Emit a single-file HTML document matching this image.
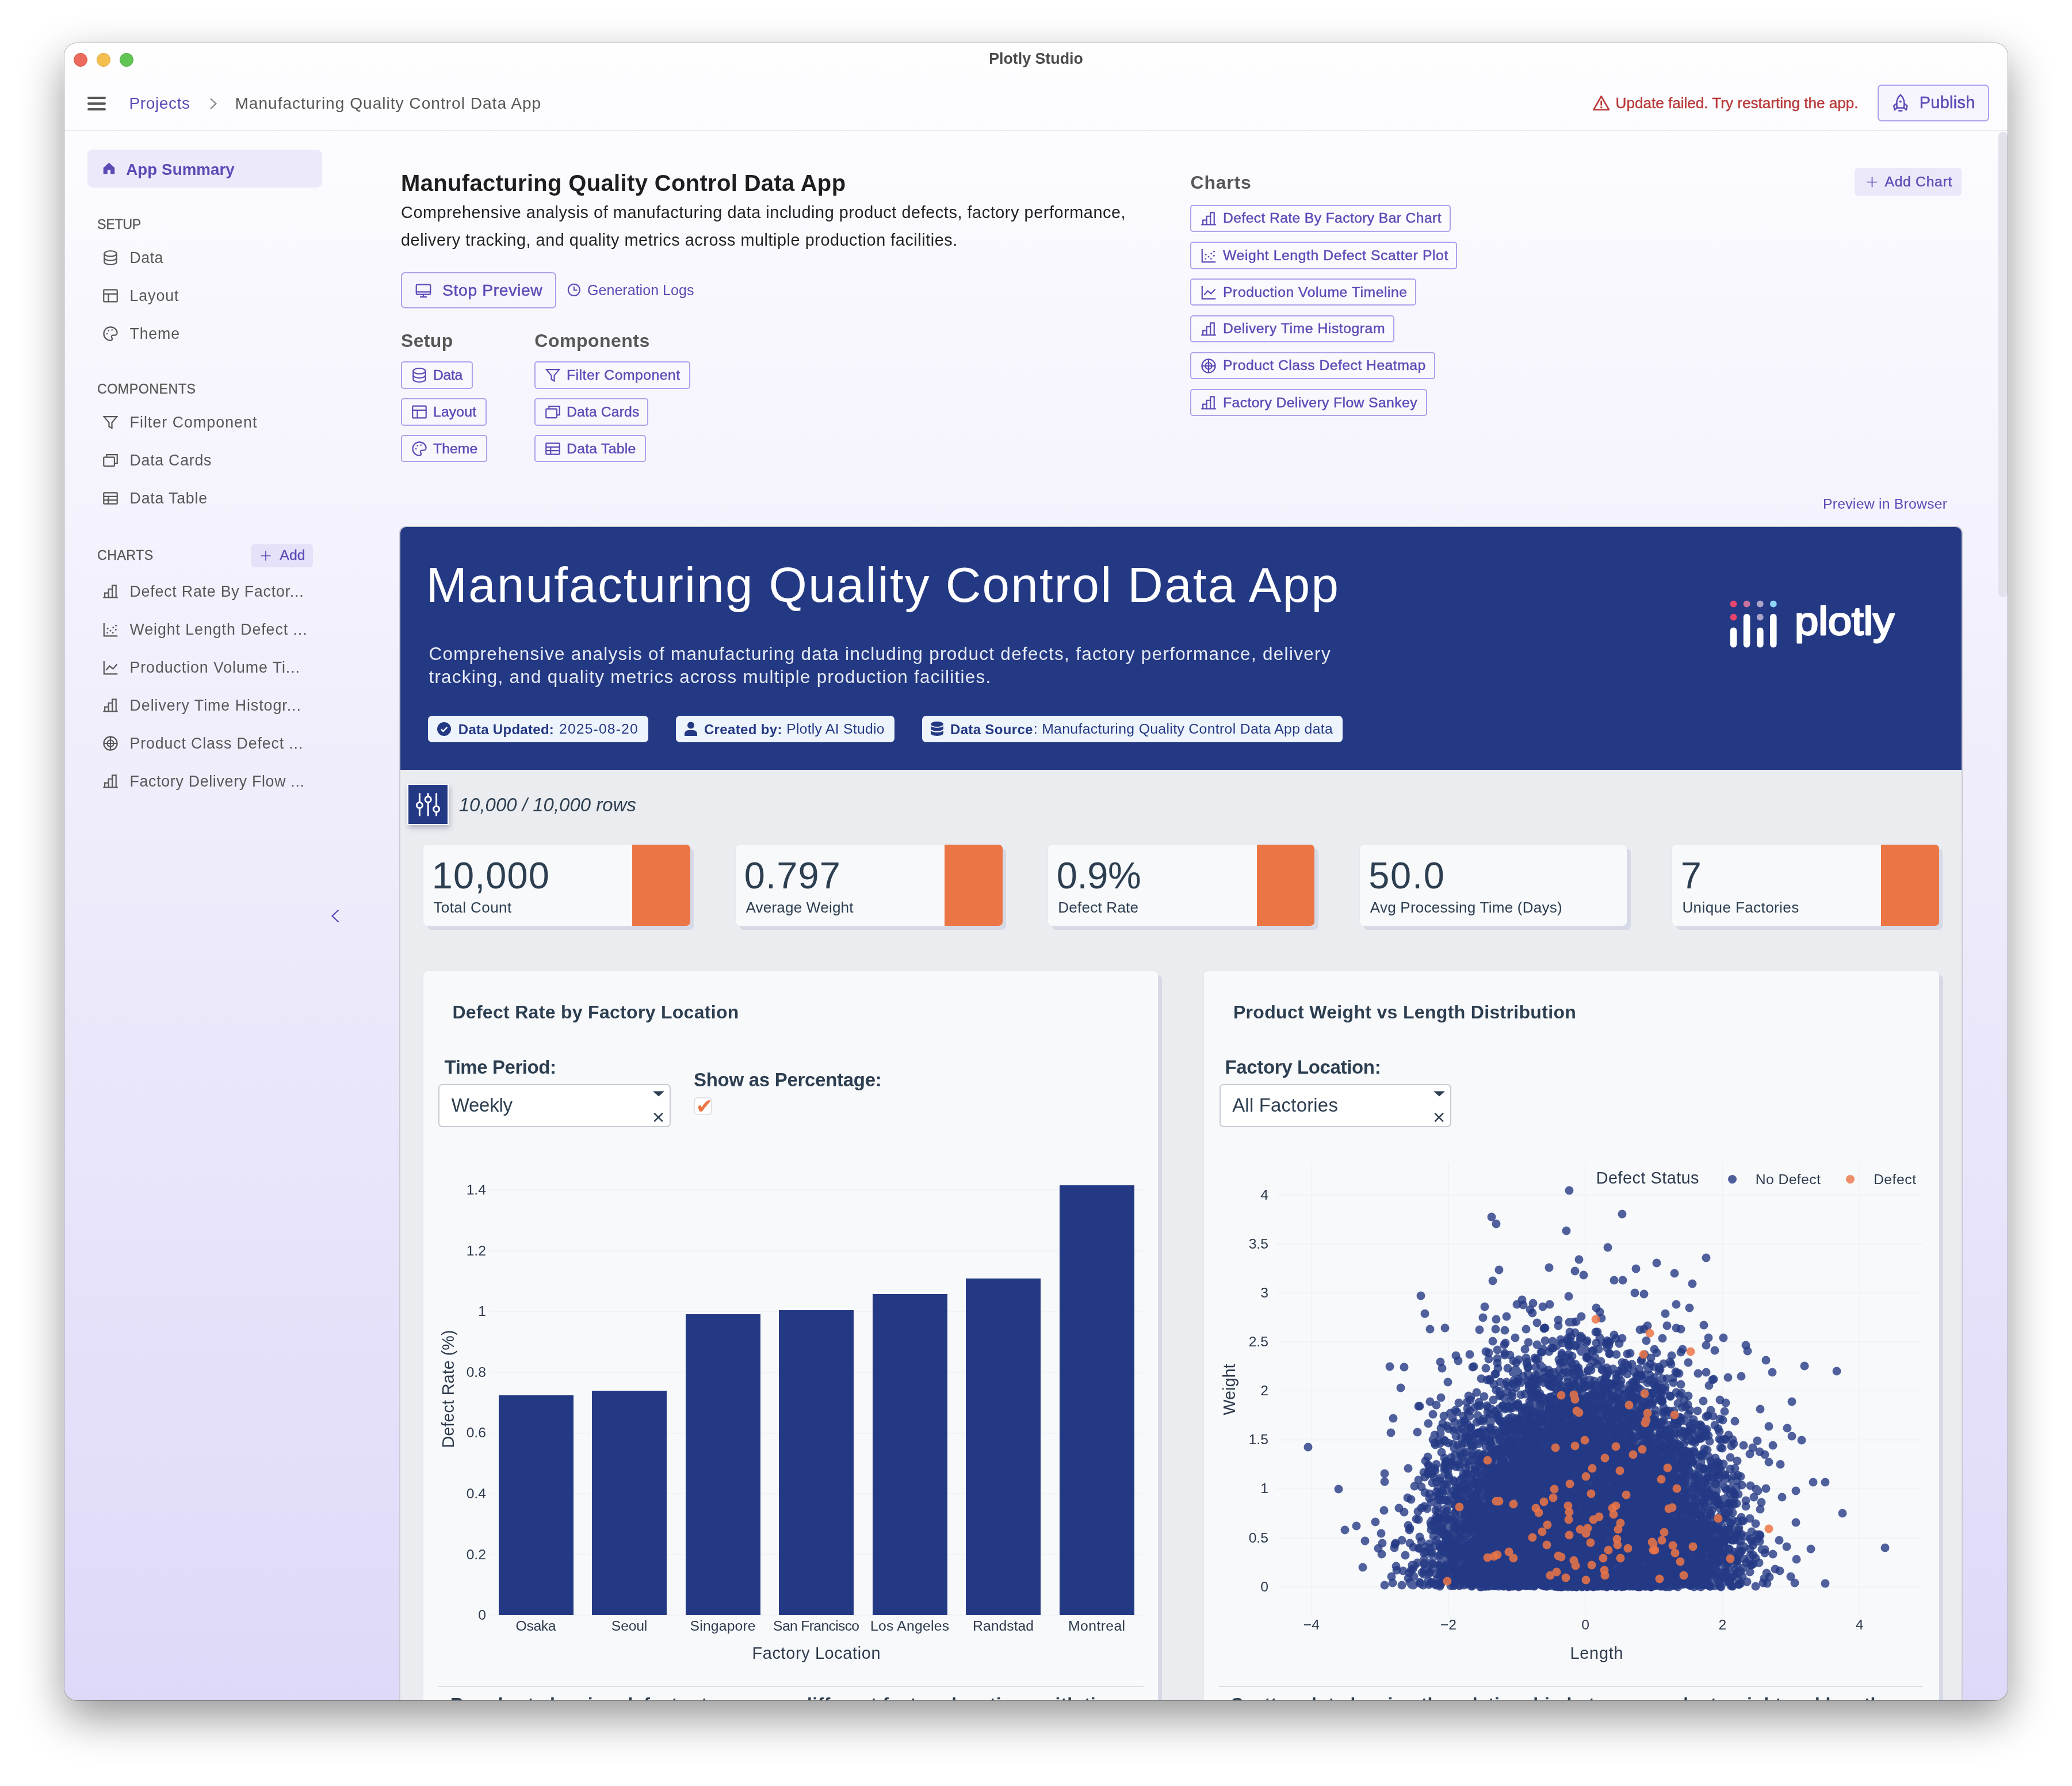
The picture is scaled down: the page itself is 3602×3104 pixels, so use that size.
<!DOCTYPE html><html><head><meta charset="utf-8"><title>Plotly Studio</title><style>html,body{margin:0;padding:0;background:#fff}
body{width:3602px;height:3104px;position:relative;overflow:hidden;font-family:"Liberation Sans",sans-serif}
#win{position:absolute;left:112px;top:75px;width:3378px;height:2880px;border-radius:22px;background:linear-gradient(180deg,#FEFEFF 0%,#F9F8FE 14%,#EEEBFB 50%,#DFD9F9 100%);box-shadow:0 0 0 1px rgba(0,0,0,.28),0 30px 76px rgba(0,0,0,.42)}
#clip{position:absolute;left:112px;top:75px;width:3378px;height:2880px;border-radius:22px;overflow:hidden}
#in{position:absolute;left:-112px;top:-75px;width:3602px;height:3104px;will-change:transform}
</style></head><body><div id="win"></div><div id="clip"><div id="in"><div style="position:absolute;left:694.0px;top:913.8px;width:2718.0px;height:2086.2px;box-sizing:border-box;background:#EBECF0;border:2px solid #CBCBD3;border-radius:12px;overflow:hidden;"><div style="position:absolute;left:0;top:0;width:100%;height:421.800px;background:#243984"></div></div><div style="position:absolute;top:974.2px;font-size:85.26px;line-height:85.26px;color:#fff;white-space:nowrap;letter-spacing:2.264px;left:741.0px;">Manufacturing Quality Control Data App</div><div style="position:absolute;top:1121.2px;font-size:31.41px;line-height:31.41px;color:#E6EAF4;white-space:nowrap;letter-spacing:1.340px;left:745.4px;">Comprehensive analysis of manufacturing data including product defects, factory performance, delivery</div><div style="position:absolute;top:1161.0px;font-size:31.41px;line-height:31.41px;color:#E6EAF4;white-space:nowrap;letter-spacing:1.266px;left:745.4px;">tracking, and quality metrics across multiple production facilities.</div><svg style="position:absolute;left:3000px;top:1030px" width="320" height="110" viewBox="3000 1030 320 110"><circle cx="3013.5" cy="1049.7" r="5.900" fill="#E8456D"/><circle cx="3036.6" cy="1049.7" r="5.900" fill="#C9729F"/><circle cx="3059.8" cy="1049.7" r="5.900" fill="#AEA3CB"/><circle cx="3082.8" cy="1049.7" r="5.900" fill="#8FD7F7"/><circle cx="3013.5" cy="1072.6" r="5.900" fill="#E8456D"/><circle cx="3059.8" cy="1072.6" r="5.900" fill="#AEA3CB"/><rect x="3007.7" y="1090.6" width="11.600" height="34.8" rx="5.800" fill="#fff"/><rect x="3030.8" y="1066.7" width="11.600" height="58.7" rx="5.800" fill="#fff"/><rect x="3054.0" y="1090.6" width="11.600" height="34.8" rx="5.800" fill="#fff"/><rect x="3077.0" y="1066.7" width="11.600" height="58.7" rx="5.800" fill="#fff"/><text x="3120" y="1103" font-family="Liberation Sans,sans-serif" font-size="68" fill="#fff" stroke="#fff" stroke-width="2.800" stroke-linejoin="round" stroke-linecap="round" textLength="173" lengthAdjust="spacingAndGlyphs">plotly</text></svg><div style="position:absolute;left:743.8px;top:1244.0px;width:383.2px;height:46.0px;box-sizing:border-box;background:#EEF4FC;border-radius:7px;"></div><svg style="position:absolute;left:760px;top:1255px" width="24" height="24" viewBox="0 0 24 24"><circle cx="12" cy="12" r="12" fill="#243984"/><path d="M6.800 12.400l3.600 3.600 6.800-7.200" fill="none" stroke="#EEF4FC" stroke-width="2.600"/></svg><div style="position:absolute;top:1255.7px;font-size:24.00px;line-height:24.00px;color:#243984;white-space:nowrap;font-weight:700;letter-spacing:0.278px;left:796.8px;">Data Updated:</div><div style="position:absolute;top:1255.1px;font-size:24.72px;line-height:24.72px;color:#243984;white-space:nowrap;letter-spacing:1.141px;left:972.0px;">2025-08-20</div><div style="position:absolute;left:1175.0px;top:1244.0px;width:380.0px;height:46.0px;box-sizing:border-box;background:#EEF4FC;border-radius:7px;"></div><svg style="position:absolute;left:1190px;top:1254px" width="22" height="25" viewBox="0 0 22 25" fill="#243984"><circle cx="11" cy="6.500" r="6"/><path d="M0 25v-3.500c0-4 3.300-6.500 7-6.500h8c3.700 0 7 2.500 7 6.500V25z"/></svg><div style="position:absolute;top:1255.7px;font-size:24.00px;line-height:24.00px;color:#243984;white-space:nowrap;font-weight:700;letter-spacing:0.347px;left:1223.9px;">Created by:</div><div style="position:absolute;top:1255.1px;font-size:24.72px;line-height:24.72px;color:#243984;white-space:nowrap;letter-spacing:0.269px;left:1367.2px;">Plotly AI Studio</div><div style="position:absolute;left:1603.0px;top:1244.0px;width:730.6px;height:46.0px;box-sizing:border-box;background:#EEF4FC;border-radius:7px;"></div><svg style="position:absolute;left:1618px;top:1254px" width="22" height="25" viewBox="0 0 22 25" fill="#243984"><ellipse cx="11" cy="4.500" rx="11" ry="4.500"/><path d="M0 7.500c1.500 2.300 6 3.300 11 3.300s9.500-1 11-3.300v4.800c0 2.400-4.900 4.200-11 4.200S0 14.700 0 12.300z"/><path d="M0 15.500c1.500 2.300 6 3.300 11 3.300s9.500-1 11-3.300v4.800C22 22.900 17.100 25 11 25S0 22.900 0 20.300z"/></svg><div style="position:absolute;top:1255.7px;font-size:24.00px;line-height:24.00px;color:#243984;white-space:nowrap;font-weight:700;letter-spacing:0.336px;left:1652.0px;">Data Source</div><div style="position:absolute;top:1255.1px;font-size:24.72px;line-height:24.72px;color:#243984;white-space:nowrap;letter-spacing:0.358px;left:1796.7px;">: Manufacturing Quality Control Data App data</div><div style="position:absolute;left:708.0px;top:1362.3px;width:72.0px;height:71.4px;box-sizing:border-box;background:#243984;border:2px solid #fff;box-shadow:2px 5px 9px rgba(60,70,110,0.33);"></div><svg style="position:absolute;left:722px;top:1376px" width="44" height="44" viewBox="0 0 44 44" fill="none" stroke="#fff" stroke-width="3"><path d="M7.400 3.500v15M7.400 28.500v12.500M22.200 3.500v5M22.200 18.500v22.500M36.600 3.500v21.500M36.600 35.200v5.800" stroke-linecap="round"/><circle cx="7.400" cy="23.500" r="5"/><circle cx="22.200" cy="13.400" r="5"/><circle cx="36.600" cy="30.200" r="5"/></svg><div style="position:absolute;top:1382.9px;font-size:32.96px;line-height:32.96px;color:#2C3E50;white-space:nowrap;font-style:italic;letter-spacing:0.026px;left:797.7px;">10,000 / 10,000 rows</div><div style="position:absolute;left:735.6px;top:1467.5px;width:463.9px;height:141.0px;box-sizing:border-box;background:#F8F9FB;border-radius:7px;box-shadow:7px 7px 0 #D6D9E6,0 0 0 1.500px #E6E8EE;"></div><div style="position:absolute;left:1099.0px;top:1467.5px;width:100.5px;height:141.0px;box-sizing:border-box;background:#EC7545;border-radius:0 7px 7px 0;"></div><div style="position:absolute;top:1490.3px;font-size:64.96px;line-height:64.96px;color:#2C3E50;white-space:nowrap;letter-spacing:1.067px;left:750.8px;">10,000</div><div style="position:absolute;top:1563.7px;font-size:26.06px;line-height:26.06px;color:#2C3E50;white-space:nowrap;letter-spacing:0.399px;left:753.4px;">Total Count</div><div style="position:absolute;left:1278.6px;top:1467.5px;width:463.9px;height:141.0px;box-sizing:border-box;background:#F8F9FB;border-radius:7px;box-shadow:7px 7px 0 #D6D9E6,0 0 0 1.500px #E6E8EE;"></div><div style="position:absolute;left:1642.0px;top:1467.5px;width:100.5px;height:141.0px;box-sizing:border-box;background:#EC7545;border-radius:0 7px 7px 0;"></div><div style="position:absolute;top:1490.3px;font-size:64.96px;line-height:64.96px;color:#2C3E50;white-space:nowrap;letter-spacing:1.114px;left:1293.8px;">0.797</div><div style="position:absolute;top:1563.7px;font-size:26.06px;line-height:26.06px;color:#2C3E50;white-space:nowrap;letter-spacing:0.212px;left:1296.4px;">Average Weight</div><div style="position:absolute;left:1821.5px;top:1467.5px;width:463.5px;height:141.0px;box-sizing:border-box;background:#F8F9FB;border-radius:7px;box-shadow:7px 7px 0 #D6D9E6,0 0 0 1.500px #E6E8EE;"></div><div style="position:absolute;left:2184.5px;top:1467.5px;width:100.5px;height:141.0px;box-sizing:border-box;background:#EC7545;border-radius:0 7px 7px 0;"></div><div style="position:absolute;top:1490.3px;font-size:64.96px;line-height:64.96px;color:#2C3E50;white-space:nowrap;letter-spacing:-0.353px;left:1836.7px;">0.9%</div><div style="position:absolute;top:1563.7px;font-size:26.06px;line-height:26.06px;color:#2C3E50;white-space:nowrap;letter-spacing:0.221px;left:1839.3px;">Defect Rate</div><div style="position:absolute;left:2364.0px;top:1467.5px;width:463.5px;height:141.0px;box-sizing:border-box;background:#F8F9FB;border-radius:7px;box-shadow:7px 7px 0 #D6D9E6,0 0 0 1.500px #E6E8EE;"></div><div style="position:absolute;top:1490.3px;font-size:64.96px;line-height:64.96px;color:#2C3E50;white-space:nowrap;letter-spacing:1.761px;left:2379.2px;">50.0</div><div style="position:absolute;top:1563.7px;font-size:26.06px;line-height:26.06px;color:#2C3E50;white-space:nowrap;letter-spacing:0.230px;left:2381.8px;">Avg Processing Time (Days)</div><div style="position:absolute;left:2906.6px;top:1467.5px;width:463.9px;height:141.0px;box-sizing:border-box;background:#F8F9FB;border-radius:7px;box-shadow:7px 7px 0 #D6D9E6,0 0 0 1.500px #E6E8EE;"></div><div style="position:absolute;left:3270.0px;top:1467.5px;width:100.5px;height:141.0px;box-sizing:border-box;background:#EC7545;border-radius:0 7px 7px 0;"></div><div style="position:absolute;top:1490.3px;font-size:64.96px;line-height:64.96px;color:#2C3E50;white-space:nowrap;left:2921.8px;">7</div><div style="position:absolute;top:1563.7px;font-size:26.06px;line-height:26.06px;color:#2C3E50;white-space:nowrap;letter-spacing:0.395px;left:2924.4px;">Unique Factories</div><div style="position:absolute;left:735.6px;top:1688.0px;width:1277.9px;height:1312.0px;box-sizing:border-box;background:#F8F9FB;border-radius:7px;box-shadow:7px 7px 0 #D6D9E6,0 0 0 1.500px #E6E8EE;"></div><div style="position:absolute;left:2092.6px;top:1688.0px;width:1278.0px;height:1312.0px;box-sizing:border-box;background:#F8F9FB;border-radius:7px;box-shadow:7px 7px 0 #D6D9E6,0 0 0 1.500px #E6E8EE;"></div><div style="position:absolute;top:1742.6px;font-size:32.00px;line-height:32.00px;color:#2C3E50;white-space:nowrap;font-weight:700;letter-spacing:0.298px;left:786.4px;">Defect Rate by Factory Location</div><div style="position:absolute;top:1742.6px;font-size:32.00px;line-height:32.00px;color:#2C3E50;white-space:nowrap;font-weight:700;letter-spacing:0.324px;left:2143.9px;">Product Weight vs Length Distribution</div><div style="position:absolute;top:1838.1px;font-size:33.00px;line-height:33.00px;color:#2C3E50;white-space:nowrap;font-weight:700;letter-spacing:-0.433px;left:772.5px;">Time Period:</div><div style="position:absolute;top:1838.1px;font-size:33.00px;line-height:33.00px;color:#2C3E50;white-space:nowrap;font-weight:700;letter-spacing:-0.358px;left:2129.5px;">Factory Location:</div><div style="position:absolute;top:1860.4px;font-size:33.00px;line-height:33.00px;color:#2C3E50;white-space:nowrap;font-weight:700;letter-spacing:-0.290px;left:1206.0px;">Show as Percentage:</div><div style="position:absolute;left:762.2px;top:1884.4px;width:403.6px;height:74.9px;box-sizing:border-box;background:#fff;border:2px solid #C8CBD2;border-radius:7px;"></div><div style="position:absolute;top:1904.7px;font-size:32.96px;line-height:32.96px;color:#2C3E50;white-space:nowrap;letter-spacing:-0.231px;left:784.7px;">Weekly</div><svg style="position:absolute;left:1134px;top:1895px" width="22" height="58" viewBox="0 0 22 58"><path d="M1 1.500h20L11 10.500z" fill="#2C3E50"/><path d="M3.300 39.600l14.600 14.600M17.900 39.600l-14.600 14.600" stroke="#2C3E50" stroke-width="2.600" fill="none"/></svg><div style="position:absolute;left:2119.7px;top:1884.4px;width:403.1px;height:74.9px;box-sizing:border-box;background:#fff;border:2px solid #C8CBD2;border-radius:7px;"></div><div style="position:absolute;top:1904.7px;font-size:32.96px;line-height:32.96px;color:#2C3E50;white-space:nowrap;letter-spacing:0.198px;left:2142.2px;">All Factories</div><svg style="position:absolute;left:2491px;top:1895px" width="22" height="58" viewBox="0 0 22 58"><path d="M1 1.500h20L11 10.500z" fill="#2C3E50"/><path d="M3.300 39.600l14.600 14.600M17.900 39.600l-14.600 14.600" stroke="#2C3E50" stroke-width="2.600" fill="none"/></svg><div style="position:absolute;left:1206.0px;top:1906.5px;width:32.0px;height:31.5px;box-sizing:border-box;background:#fff;border:2px solid #E1E3E8;border-radius:7px;"></div><div style="position:absolute;top:1905.0px;font-size:36.00px;line-height:36.00px;color:#EC7545;white-space:nowrap;left:1209.5px;font-family:DejaVu Sans,sans-serif;">✔</div><div style="position:absolute;left:850.0px;top:2806.3px;width:1138.0px;height:2.0px;box-sizing:border-box;background:#F2F3F7;"></div><div style="position:absolute;top:2795.1px;font-size:24.72px;line-height:24.72px;color:#2D3A4D;white-space:nowrap;right:2757.0px;">0</div><div style="position:absolute;left:850.0px;top:2700.7px;width:1138.0px;height:2.0px;box-sizing:border-box;background:#F2F3F7;"></div><div style="position:absolute;top:2689.5px;font-size:24.72px;line-height:24.72px;color:#2D3A4D;white-space:nowrap;right:2757.0px;">0.2</div><div style="position:absolute;left:850.0px;top:2595.1px;width:1138.0px;height:2.0px;box-sizing:border-box;background:#F2F3F7;"></div><div style="position:absolute;top:2583.9px;font-size:24.72px;line-height:24.72px;color:#2D3A4D;white-space:nowrap;right:2757.0px;">0.4</div><div style="position:absolute;left:850.0px;top:2489.5px;width:1138.0px;height:2.0px;box-sizing:border-box;background:#F2F3F7;"></div><div style="position:absolute;top:2478.3px;font-size:24.72px;line-height:24.72px;color:#2D3A4D;white-space:nowrap;right:2757.0px;">0.6</div><div style="position:absolute;left:850.0px;top:2383.9px;width:1138.0px;height:2.0px;box-sizing:border-box;background:#F2F3F7;"></div><div style="position:absolute;top:2372.7px;font-size:24.72px;line-height:24.72px;color:#2D3A4D;white-space:nowrap;right:2757.0px;">0.8</div><div style="position:absolute;left:850.0px;top:2278.3px;width:1138.0px;height:2.0px;box-sizing:border-box;background:#F2F3F7;"></div><div style="position:absolute;top:2267.1px;font-size:24.72px;line-height:24.72px;color:#2D3A4D;white-space:nowrap;right:2757.0px;">1</div><div style="position:absolute;left:850.0px;top:2172.7px;width:1138.0px;height:2.0px;box-sizing:border-box;background:#F2F3F7;"></div><div style="position:absolute;top:2161.5px;font-size:24.72px;line-height:24.72px;color:#2D3A4D;white-space:nowrap;right:2757.0px;">1.2</div><div style="position:absolute;left:850.0px;top:2067.1px;width:1138.0px;height:2.0px;box-sizing:border-box;background:#F2F3F7;"></div><div style="position:absolute;top:2055.9px;font-size:24.72px;line-height:24.72px;color:#2D3A4D;white-space:nowrap;right:2757.0px;">1.4</div><div style="position:absolute;left:866.6px;top:2424.5px;width:130.0px;height:382.8px;box-sizing:border-box;background:#243984;"></div><div style="position:absolute;top:2813.7px;font-size:24.72px;line-height:24.72px;color:#2D3A4D;white-space:nowrap;letter-spacing:-0.360px;left:-568.4px;width:3000px;text-align:center;text-indent:-0.36px;">Osaka</div><div style="position:absolute;left:1029.1px;top:2416.6px;width:130.0px;height:390.7px;box-sizing:border-box;background:#243984;"></div><div style="position:absolute;top:2813.7px;font-size:24.72px;line-height:24.72px;color:#2D3A4D;white-space:nowrap;letter-spacing:-0.180px;left:-405.9px;width:3000px;text-align:center;text-indent:-0.18px;">Seoul</div><div style="position:absolute;left:1191.6px;top:2284.1px;width:130.0px;height:523.2px;box-sizing:border-box;background:#243984;"></div><div style="position:absolute;top:2813.7px;font-size:24.72px;line-height:24.72px;color:#2D3A4D;white-space:nowrap;letter-spacing:0.163px;left:-243.4px;width:3000px;text-align:center;text-indent:0.16px;">Singapore</div><div style="position:absolute;left:1354.1px;top:2277.2px;width:130.0px;height:530.1px;box-sizing:border-box;background:#243984;"></div><div style="position:absolute;top:2813.7px;font-size:24.72px;line-height:24.72px;color:#2D3A4D;white-space:nowrap;letter-spacing:-0.666px;left:-80.9px;width:3000px;text-align:center;text-indent:-0.67px;">San Francisco</div><div style="position:absolute;left:1516.6px;top:2249.4px;width:130.0px;height:557.9px;box-sizing:border-box;background:#243984;"></div><div style="position:absolute;top:2813.7px;font-size:24.72px;line-height:24.72px;color:#2D3A4D;white-space:nowrap;letter-spacing:0.231px;left:81.6px;width:3000px;text-align:center;text-indent:0.23px;">Los Angeles</div><div style="position:absolute;left:1679.1px;top:2222.0px;width:130.0px;height:585.3px;box-sizing:border-box;background:#243984;"></div><div style="position:absolute;top:2813.7px;font-size:24.72px;line-height:24.72px;color:#2D3A4D;white-space:nowrap;letter-spacing:0.027px;left:244.1px;width:3000px;text-align:center;text-indent:0.03px;">Randstad</div><div style="position:absolute;left:1841.6px;top:2059.7px;width:130.0px;height:747.6px;box-sizing:border-box;background:#243984;"></div><div style="position:absolute;top:2813.7px;font-size:24.72px;line-height:24.72px;color:#2D3A4D;white-space:nowrap;letter-spacing:0.404px;left:406.6px;width:3000px;text-align:center;text-indent:0.40px;">Montreal</div><div style="position:absolute;top:2858.8px;font-size:28.84px;line-height:28.84px;color:#2D3A4D;white-space:nowrap;letter-spacing:0.654px;left:-81.0px;width:3000px;text-align:center;text-indent:0.65px;">Factory Location</div><div style="position:absolute;left:629.4px;top:2393.5px;width:300px;height:40px;line-height:40px;text-align:center;transform:rotate(-90deg);font-size:28.840px;color:#2D3A4D;white-space:nowrap">Defect Rate (%)</div><div style="position:absolute;left:762.0px;top:2929.5px;width:1226.0px;height:2.0px;box-sizing:border-box;background:#DEE0E5;"></div><div style="position:absolute;left:2118.5px;top:2929.5px;width:1224.5px;height:2.0px;box-sizing:border-box;background:#DEE0E5;"></div><div style="position:absolute;top:2945.9px;font-size:32.00px;line-height:32.00px;color:#2C3E50;white-space:nowrap;font-weight:700;letter-spacing:0.539px;left:783.0px;">Bar chart showing defect rates across different factory locations with time</div><div style="position:absolute;top:2945.9px;font-size:32.00px;line-height:32.00px;color:#2C3E50;white-space:nowrap;font-weight:700;letter-spacing:0.335px;left:2140.0px;">Scatter plot showing the relationship between product weight and length</div><svg style="position:absolute;left:2219px;top:2021px;overflow:visible" width="1124" height="786" viewBox="0 0 1124 786"><rect x="0" y="735.9" width="1124" height="2" fill="#F2F3F7"/><rect x="0" y="650.8" width="1124" height="2" fill="#F2F3F7"/><rect x="0" y="565.6" width="1124" height="2" fill="#F2F3F7"/><rect x="0" y="480.5" width="1124" height="2" fill="#F2F3F7"/><rect x="0" y="395.3" width="1124" height="2" fill="#F2F3F7"/><rect x="0" y="310.2" width="1124" height="2" fill="#F2F3F7"/><rect x="0" y="225.0" width="1124" height="2" fill="#F2F3F7"/><rect x="0" y="139.8" width="1124" height="2" fill="#F2F3F7"/><rect x="0" y="54.7" width="1124" height="2" fill="#F2F3F7"/><rect x="59.8" y="0" width="2" height="786" fill="#F2F3F7"/><rect x="298.0" y="0" width="2" height="786" fill="#F2F3F7"/><rect x="536.2" y="0" width="2" height="786" fill="#F2F3F7"/><rect x="774.4" y="0" width="2" height="786" fill="#F2F3F7"/><rect x="1012.6" y="0" width="2" height="786" fill="#F2F3F7"/><path d="M404 721h0M607 537h0M564 420h0M826 657h0M670 410h0M402 422h0M472 624h0M493 433h0M413 618h0M681 604h0M559 428h0M561 699h0M488 566h0M468 733h0M482 464h0M529 718h0M471 549h0M559 637h0M747 645h0M504 699h0M507 708h0M770 694h0M581 729h0M653 700h0M571 688h0M454 656h0M345 710h0M568 585h0M741 721h0M372 713h0M478 322h0M720 735h0M539 675h0M722 616h0M574 729h0M417 726h0M471 613h0M375 569h0M665 355h0M718 623h0M562 689h0M593 683h0M239 719h0M591 625h0M699 733h0M565 620h0M735 627h0M709 717h0M686 690h0M490 723h0M325 559h0M432 676h0M380 690h0M765 594h0M559 727h0M426 639h0M764 558h0M600 645h0M603 729h0M601 679h0M595 595h0M552 605h0M531 674h0M591 642h0M490 644h0M610 661h0M675 515h0M494 589h0M775 656h0M736 529h0M1058 669h0M498 681h0M346 661h0M496 423h0M514 623h0M525 695h0M563 709h0M693 672h0M625 736h0M591 380h0M558 532h0M428 567h0M718 252h0M695 554h0M489 736h0M780 647h0M547 724h0M533 721h0M703 694h0M391 732h0M571 690h0M616 529h0M422 604h0M449 564h0M479 633h0M467 656h0M538 504h0M531 663h0M594 690h0M782 698h0M428 462h0M792 735h0M651 687h0M558 594h0M613 452h0M468 504h0M437 482h0M382 502h0M595 720h0M571 691h0M528 393h0M500 626h0M539 724h0M665 516h0M495 662h0M629 539h0M633 540h0M502 680h0M658 604h0M440 660h0M649 717h0M771 638h0M486 529h0M635 512h0M529 672h0M757 684h0M511 728h0M797 655h0M360 732h0M516 511h0M594 476h0M476 463h0M543 479h0M536 638h0M376 663h0M506 575h0M769 732h0M499 546h0M383 515h0M224 682h0M438 604h0M502 458h0M546 456h0M700 564h0M386 669h0M600 695h0M640 508h0M450 635h0M649 529h0M348 451h0M492 529h0M545 735h0M691 431h0M466 732h0M665 603h0M596 624h0M477 532h0M599 669h0M570 725h0M582 631h0M393 648h0M560 411h0M482 592h0M615 711h0M703 527h0M637 731h0M447 656h0M607 664h0M563 536h0M586 703h0M385 693h0M552 731h0M499 520h0M308 634h0M335 663h0M315 704h0M392 624h0M509 704h0M621 588h0M541 568h0M611 706h0M593 587h0M587 665h0M707 520h0M475 589h0M505 735h0M649 369h0M526 683h0M570 598h0M659 713h0M591 680h0M434 604h0M630 358h0M592 698h0M561 582h0M661 734h0M602 465h0M459 625h0M574 609h0M520 504h0M631 560h0M457 412h0M569 707h0M641 685h0M404 617h0M528 494h0M446 512h0M298 381h0M547 592h0M410 531h0M383 500h0M317 563h0M477 500h0M477 419h0M628 645h0M540 640h0M419 715h0M520 683h0M285 470h0M622 449h0M452 547h0M641 664h0M421 605h0M154 657h0M767 618h0M645 515h0M391 594h0M716 532h0M440 461h0M522 703h0M399 705h0M536 611h0M550 582h0M636 490h0M463 250h0M618 350h0M399 536h0M503 693h0M635 658h0M777 523h0M611 617h0M605 422h0M393 665h0M527 678h0M468 616h0M459 561h0M515 655h0M642 553h0M393 504h0M591 643h0M368 629h0M431 680h0M611 567h0M849 678h0M587 720h0M504 682h0M813 667h0M427 731h0M388 727h0M513 733h0M574 611h0M634 681h0M459 723h0M595 601h0M465 706h0M424 600h0M548 414h0M471 643h0M789 512h0M551 722h0M546 605h0M569 727h0M465 707h0M707 645h0M523 358h0M530 511h0M392 728h0M597 603h0M368 688h0M353 700h0M706 511h0M512 628h0M330 702h0M601 699h0M471 675h0M719 457h0M413 657h0M796 715h0M645 625h0M429 247h0M696 700h0M610 608h0M660 458h0M650 693h0M572 637h0M490 695h0M562 406h0M601 357h0M527 537h0M537 478h0M481 505h0M507 652h0M640 736h0M579 570h0M573 477h0M514 634h0M503 472h0M522 562h0M339 551h0M550 715h0M361 713h0M607 496h0M516 385h0M686 706h0M365 673h0M566 495h0M452 528h0M492 568h0M581 727h0M715 719h0M458 708h0M540 432h0M479 468h0M510 553h0M565 386h0M551 690h0M416 421h0M465 668h0M396 563h0M837 570h0M654 663h0M602 583h0M587 711h0M673 553h0M760 594h0M413 649h0M415 702h0M672 651h0M617 535h0M376 594h0M478 721h0M557 657h0M694 636h0M670 726h0M706 547h0M667 660h0M620 652h0M641 735h0M502 673h0M656 691h0M704 720h0M545 704h0M709 544h0M302 435h0M376 610h0M561 633h0M621 596h0M554 671h0M403 669h0M610 624h0M608 430h0M668 639h0M663 675h0M474 678h0M499 577h0M500 610h0M452 728h0M586 707h0M342 579h0M557 594h0M583 602h0M347 575h0M659 632h0M576 147h0M545 410h0M436 674h0M648 604h0M394 703h0M560 454h0M630 603h0M684 503h0M351 729h0M547 716h0M577 393h0M624 409h0M526 516h0M562 729h0M490 621h0M480 701h0M626 657h0M330 624h0M377 686h0M601 89h0M587 648h0M589 700h0M587 559h0M601 562h0M413 509h0M573 519h0M397 636h0M828 495h0M371 659h0M694 734h0M404 586h0M465 733h0M433 489h0M433 613h0M409 513h0M640 586h0M645 447h0M427 720h0M507 473h0M700 723h0M487 612h0M378 593h0M459 642h0M705 700h0M270 622h0M546 736h0M685 619h0M666 646h0M379 586h0M605 730h0M586 606h0M651 339h0M356 676h0M605 644h0M586 724h0M340 674h0M672 675h0M697 721h0M387 540h0M597 619h0M645 635h0M620 726h0M477 675h0M410 723h0M511 648h0M744 591h0M605 478h0M547 360h0M675 581h0M619 503h0M834 567h0M519 598h0M896 475h0M667 669h0M297 711h0M369 686h0M553 583h0M591 678h0M539 683h0M397 608h0M330 484h0M739 713h0M292 482h0M715 505h0M570 670h0M361 559h0M481 664h0M617 594h0M409 442h0M680 711h0M654 586h0M717 680h0M615 545h0M856 520h0M458 531h0M427 518h0M404 733h0M607 611h0M370 666h0M665 570h0M448 503h0M620 590h0M536 593h0M439 566h0M402 665h0M425 382h0M630 651h0M442 621h0M521 564h0M285 711h0M338 706h0M549 525h0M681 709h0M535 731h0M525 475h0M406 546h0M686 551h0M339 705h0M388 652h0M639 630h0M522 559h0M435 349h0M477 546h0M642 736h0M613 551h0M620 735h0M640 642h0M599 474h0M715 568h0M583 521h0M553 617h0M668 681h0M771 412h0M498 479h0M392 571h0M407 618h0M677 737h0M541 580h0M407 717h0M675 604h0M507 559h0M619 455h0M437 555h0M533 580h0M379 677h0M407 625h0M543 482h0M650 478h0M371 587h0M479 581h0M451 588h0M580 734h0M533 588h0M762 664h0M439 574h0M289 586h0M650 595h0M596 557h0M573 438h0M735 474h0M475 508h0M352 667h0M543 523h0M727 596h0M579 500h0M607 590h0M530 437h0M318 681h0M627 610h0M412 480h0M487 583h0M718 660h0M665 726h0M485 549h0M330 472h0M787 671h0M599 511h0M351 669h0M675 543h0M435 435h0M467 735h0M363 519h0M618 517h0M338 591h0M259 676h0M793 621h0M561 582h0M316 650h0M614 597h0M439 660h0M634 608h0M568 466h0M415 713h0M786 729h0M656 673h0M416 450h0M354 724h0M177 670h0M656 449h0M657 533h0M636 604h0M571 562h0M607 597h0M337 680h0M320 733h0M618 403h0M540 309h0M653 521h0M367 680h0M474 506h0M697 593h0M667 736h0M631 627h0M651 462h0M344 656h0M536 569h0M432 659h0M804 732h0M376 716h0M559 734h0M687 627h0M366 377h0M247 670h0M656 454h0M679 627h0M406 686h0M490 435h0M639 549h0M700 711h0M406 564h0M621 555h0M430 515h0M482 731h0M382 731h0M671 731h0M370 606h0M750 731h0M701 550h0M383 641h0M614 736h0M397 546h0M526 495h0M597 573h0M566 500h0M237 706h0M668 731h0M436 734h0M656 684h0M423 694h0M318 576h0M818 728h0M763 558h0M406 609h0M731 675h0M701 567h0M499 525h0M405 573h0M240 562h0M367 545h0M495 509h0M452 525h0M786 705h0M580 485h0M742 677h0M671 647h0M462 732h0M646 703h0M544 455h0M618 530h0M442 571h0M676 582h0M610 616h0M480 442h0M716 622h0M578 449h0M613 607h0M756 542h0M693 520h0M457 731h0M415 304h0M287 670h0M606 608h0M431 579h0M286 721h0M731 466h0M337 555h0M381 730h0M379 644h0M703 608h0M440 388h0M561 574h0M453 341h0M535 380h0M666 685h0M322 462h0M413 467h0M364 736h0M586 732h0M695 700h0M327 487h0M333 557h0M712 637h0M391 572h0M300 649h0M437 447h0M503 475h0M743 734h0M402 591h0M229 630h0M667 482h0M613 496h0M317 579h0M614 502h0M483 440h0M541 436h0M425 446h0M565 455h0M480 465h0M397 540h0M821 691h0M541 463h0M757 529h0M593 523h0M483 476h0M443 508h0M725 453h0M633 572h0M486 500h0M762 578h0M690 721h0M726 683h0M728 486h0M564 506h0M139 631h0M704 648h0M391 495h0M710 695h0M749 634h0M624 544h0M678 629h0M501 518h0M364 328h0M515 472h0M365 521h0M357 737h0M298 534h0M426 524h0M532 735h0M311 734h0M345 600h0M682 639h0M603 524h0M529 490h0M438 493h0M500 736h0M800 699h0M603 482h0M419 543h0M816 587h0M618 447h0M542 362h0M588 512h0M578 499h0M641 474h0M377 565h0M756 629h0M599 730h0M402 552h0M498 735h0M616 497h0M414 531h0M754 661h0M522 504h0M504 431h0M314 661h0M317 678h0M720 610h0M364 493h0M738 697h0M299 487h0M268 625h0M691 654h0M256 715h0M709 732h0M742 414h0M724 578h0M350 555h0M374 94h0M753 575h0M394 590h0M455 340h0M637 531h0M733 564h0M293 644h0M312 580h0M581 525h0M453 493h0M454 476h0M674 733h0M624 523h0M461 468h0M708 609h0M572 492h0M328 607h0M699 732h0M434 339h0M330 540h0M469 471h0M546 437h0M612 472h0M376 512h0M630 461h0M335 729h0M512 735h0M655 453h0M344 620h0M397 428h0M417 347h0M648 570h0M342 618h0M737 715h0M430 490h0M334 683h0M540 734h0M593 730h0M323 577h0M704 668h0M511 510h0M876 524h0M479 495h0M385 613h0M383 536h0M725 647h0M323 712h0M284 619h0M280 723h0M529 411h0M719 647h0M503 407h0M676 568h0M373 601h0M737 455h0M455 452h0M519 735h0M601 497h0M606 734h0M347 471h0M453 732h0M807 665h0M746 509h0M625 184h0M667 489h0M609 473h0M467 309h0M699 663h0M507 737h0M592 408h0M478 389h0M712 732h0M702 594h0M719 518h0M717 567h0M712 688h0M280 597h0M589 736h0M791 721h0M722 721h0M504 400h0M534 735h0M404 453h0M732 682h0M700 584h0M752 511h0M534 736h0M550 489h0M402 398h0M323 510h0M659 550h0M405 531h0M746 475h0M795 594h0M816 317h0M771 445h0M495 736h0M875 709h0M678 733h0M375 497h0M692 192h0M381 289h0M286 461h0M540 444h0M690 734h0M453 403h0M306 443h0M649 473h0M551 326h0M684 463h0M363 596h0M328 520h0M610 734h0M775 719h0M528 426h0M483 442h0M691 644h0M647 444h0M789 592h0M267 289h0M545 377h0M484 430h0M588 734h0M658 387h0M394 520h0M712 468h0M293 718h0M332 562h0M695 547h0M624 441h0M600 737h0M747 317h0M296 720h0M492 426h0M278 615h0M763 716h0M588 475h0M317 667h0M639 368h0M284 736h0M687 593h0M350 469h0M352 597h0M337 731h0M266 575h0M327 578h0M341 507h0M398 470h0M406 427h0M397 522h0M334 606h0M576 441h0M779 432h0M660 453h0M346 555h0M365 579h0M721 720h0M775 526h0M903 625h0M703 289h0M734 559h0M754 718h0M258 262h0M308 552h0M435 734h0M480 374h0M387 525h0M560 736h0M345 702h0M824 682h0M55 494h0M402 480h0" fill="none" stroke="#243984" stroke-opacity="0.8" stroke-width="15" stroke-linecap="round"/><path d="M792 656h0M365 528h0M686 664h0M524 685h0M443 538h0M652 581h0M504 730h0M536 647h0M552 708h0M473 707h0M426 732h0M553 704h0M616 628h0M346 670h0M448 726h0M525 695h0M521 640h0M682 636h0M630 664h0M618 608h0M666 706h0M507 656h0M493 583h0M673 619h0M649 736h0M557 718h0M544 669h0M621 518h0M341 735h0M390 564h0M645 708h0M587 586h0M430 511h0M793 608h0M529 719h0M509 669h0M504 580h0M527 661h0M684 469h0M676 262h0M345 533h0M446 501h0M608 492h0M659 710h0M560 476h0M507 692h0M498 672h0M422 543h0M585 633h0M614 674h0M359 446h0M549 643h0M552 679h0M547 726h0M439 535h0M682 639h0M409 640h0M513 724h0M449 615h0M522 593h0M530 689h0M596 707h0M480 651h0M699 703h0M499 649h0M387 722h0M547 695h0M485 664h0M478 707h0M579 638h0M809 560h0M715 650h0M667 541h0M484 492h0M654 711h0M518 460h0M723 461h0M497 643h0M466 588h0M463 408h0M605 647h0M382 549h0M639 595h0M278 656h0M666 685h0M804 712h0M618 731h0M585 682h0M605 625h0M688 644h0M514 703h0M554 673h0M571 623h0M458 719h0M315 519h0M665 659h0M396 735h0M515 532h0M552 387h0M297 656h0M419 701h0M488 519h0M598 720h0M497 731h0M607 553h0M668 681h0M421 715h0M697 718h0M507 646h0M498 663h0M615 450h0M665 675h0M419 669h0M492 726h0M389 684h0M535 680h0M529 506h0M597 563h0M569 523h0M514 727h0M575 570h0M259 668h0M345 557h0M528 616h0M567 655h0M863 491h0M824 653h0M635 657h0M432 655h0M455 679h0M432 697h0M461 677h0M612 623h0M632 645h0M484 511h0M624 709h0M557 539h0M350 588h0M589 722h0M558 723h0M577 722h0M450 486h0M462 686h0M674 623h0M576 546h0M484 616h0M496 690h0M418 615h0M278 524h0M464 682h0M768 462h0M484 719h0M509 721h0M686 556h0M627 640h0M506 566h0M706 324h0M456 645h0M851 566h0M408 619h0M417 668h0M613 554h0M316 589h0M562 481h0M604 675h0M412 724h0M411 502h0M522 492h0M600 717h0M586 659h0M592 566h0M353 686h0M489 596h0M206 663h0M554 500h0M616 475h0M509 731h0M754 665h0M620 716h0M558 505h0M573 428h0M671 664h0M562 704h0M620 700h0M721 508h0M522 650h0M703 706h0M588 414h0M557 609h0M452 717h0M499 476h0M303 680h0M535 643h0M419 660h0M533 475h0M437 616h0M619 634h0M355 713h0M640 595h0M485 522h0M579 332h0M656 645h0M341 709h0M729 707h0M593 428h0M507 684h0M512 660h0M497 451h0M768 560h0M430 605h0M556 601h0M476 622h0M521 614h0M492 628h0M642 657h0M396 559h0M651 507h0M421 532h0M616 689h0M556 472h0M583 459h0M340 625h0M292 677h0M465 607h0M696 584h0M447 683h0M527 452h0M589 583h0M402 572h0M658 410h0M807 710h0M367 594h0M693 614h0M464 686h0M405 568h0M402 471h0M484 692h0M688 687h0M528 596h0M630 578h0M446 646h0M563 624h0M589 541h0M505 682h0M265 733h0M566 607h0M682 682h0M473 710h0M461 407h0M461 734h0M578 616h0M413 541h0M531 662h0M533 445h0M697 728h0M460 455h0M373 594h0M489 669h0M553 604h0M306 704h0M524 647h0M499 557h0M736 646h0M513 672h0M612 508h0M587 629h0M442 649h0M598 715h0M599 605h0M646 671h0M423 736h0M656 354h0M641 662h0M769 619h0M388 715h0M491 715h0M507 622h0M447 452h0M503 499h0M676 541h0M640 561h0M741 637h0M486 707h0M583 468h0M570 597h0M445 665h0M471 602h0M523 697h0M453 689h0M467 691h0M640 682h0M557 639h0M546 627h0M628 550h0M448 664h0M438 467h0M347 694h0M424 682h0M741 659h0M527 621h0M516 728h0M735 699h0M497 633h0M574 587h0M512 693h0M620 558h0M413 627h0M687 335h0M530 647h0M471 561h0M703 719h0M434 644h0M514 425h0M564 686h0M545 655h0M372 663h0M567 623h0M522 555h0M647 440h0M625 548h0M637 489h0M507 579h0M302 620h0M475 707h0M801 712h0M427 431h0M590 601h0M463 640h0M901 730h0M540 646h0M344 638h0M595 468h0M411 479h0M442 605h0M316 595h0M423 639h0M438 529h0M426 627h0M562 578h0M453 384h0M558 534h0M425 554h0M441 702h0M485 473h0M395 733h0M627 689h0M781 417h0M443 409h0M480 706h0M730 708h0M535 720h0M536 469h0M597 506h0M630 535h0M247 423h0M576 520h0M434 572h0M599 717h0M740 703h0M672 675h0M587 459h0M562 543h0M554 626h0M397 385h0M382 574h0M627 575h0M468 439h0M732 672h0M422 450h0M460 475h0M540 544h0M540 700h0M505 605h0M357 645h0M543 581h0M807 676h0M676 662h0M660 710h0M563 724h0M600 568h0M775 632h0M695 528h0M252 563h0M491 634h0M495 581h0M483 542h0M389 733h0M462 665h0M476 630h0M631 661h0M370 710h0M448 696h0M308 466h0M701 586h0M612 598h0M514 420h0M424 686h0M431 548h0M443 624h0M465 735h0M620 598h0M703 672h0M513 582h0M603 728h0M490 598h0M434 722h0M461 642h0M547 475h0M266 583h0M631 656h0M412 562h0M470 686h0M777 690h0M643 549h0M703 550h0M549 407h0M604 406h0M468 550h0M354 515h0M423 557h0M581 698h0M517 468h0M374 667h0M524 573h0M569 511h0M380 617h0M517 603h0M566 564h0M453 665h0M514 475h0M434 530h0M700 662h0M630 591h0M453 579h0M470 633h0M563 409h0M799 687h0M534 735h0M455 445h0M433 660h0M721 696h0M710 509h0M550 574h0M668 710h0M416 544h0M404 690h0M245 695h0M561 671h0M647 659h0M683 715h0M350 604h0M576 562h0M742 633h0M622 595h0M431 682h0M735 642h0M588 480h0M277 579h0M665 525h0M654 574h0M535 430h0M665 628h0M402 705h0M781 715h0M505 500h0M389 635h0M257 689h0M371 562h0M388 713h0M623 578h0M534 524h0M656 692h0M632 494h0M638 469h0M427 694h0M639 578h0M505 338h0M733 615h0M661 722h0M278 657h0M505 517h0M617 654h0M717 650h0M446 557h0M369 565h0M657 734h0M588 663h0M420 700h0M751 732h0M595 530h0M364 625h0M458 476h0M577 731h0M590 616h0M389 381h0M431 565h0M745 732h0M697 627h0M522 598h0M681 606h0M742 533h0M199 469h0M637 719h0M615 535h0M667 359h0M733 366h0M530 412h0M468 592h0M433 536h0M710 731h0M638 453h0M752 710h0M440 690h0M418 246h0M439 456h0M664 690h0M585 614h0M452 489h0M466 551h0M630 596h0M494 734h0M312 475h0M620 662h0M302 633h0M366 629h0M509 418h0M412 715h0M290 718h0M602 403h0M400 529h0M662 519h0M697 678h0M355 468h0M437 528h0M310 519h0M436 733h0M530 267h0M717 730h0M366 422h0M680 646h0M397 603h0M783 548h0M697 732h0M468 529h0M723 521h0M402 579h0M714 525h0M554 574h0M494 559h0M654 548h0M644 591h0M385 630h0M533 549h0M623 602h0M643 734h0M639 544h0M482 435h0M552 457h0M407 578h0M797 688h0M780 704h0M422 732h0M493 564h0M575 322h0M496 432h0M779 638h0M274 546h0M638 568h0M388 502h0M461 522h0M672 592h0M493 569h0M793 736h0M460 463h0M428 435h0M554 514h0M789 566h0M574 492h0M665 499h0M406 687h0M394 552h0M332 696h0M613 395h0M554 468h0M508 505h0M613 589h0M671 518h0M492 580h0M708 732h0M564 500h0M688 693h0M415 735h0M516 501h0M407 467h0M412 499h0M748 717h0M563 734h0M499 503h0M609 514h0M799 645h0M635 498h0M281 639h0M645 454h0M285 552h0M360 445h0M623 517h0M592 408h0M631 590h0M755 661h0M489 577h0M781 718h0M765 524h0M640 676h0M788 625h0M407 668h0M716 437h0M393 587h0M534 568h0M619 732h0M561 547h0M360 681h0M793 481h0M441 628h0M310 508h0M477 407h0M560 425h0M705 707h0M345 667h0M776 585h0M318 675h0M655 480h0M726 565h0M769 542h0M326 544h0M351 676h0M400 672h0M392 714h0M586 493h0M383 530h0M469 695h0M388 397h0M386 731h0M579 556h0M323 672h0M585 473h0M390 515h0M692 593h0M631 522h0M627 442h0M557 464h0M394 711h0M339 726h0M264 453h0M690 675h0M432 402h0M519 541h0M695 556h0M689 599h0M802 623h0M740 631h0M555 494h0M343 718h0M405 663h0M360 647h0M637 578h0M623 584h0M513 512h0M628 549h0M635 733h0M546 565h0M474 428h0M359 534h0M672 435h0M602 578h0M504 525h0M826 699h0M695 470h0M582 539h0M470 477h0M381 598h0M637 569h0M685 657h0M332 454h0M521 518h0M710 585h0M363 477h0M400 623h0M582 511h0M638 496h0M797 531h0M527 475h0M709 412h0M337 728h0M587 204h0M716 667h0M527 367h0M742 693h0M526 168h0M539 444h0M701 465h0M673 683h0M377 550h0M404 737h0M612 512h0M789 727h0M410 495h0M581 735h0M399 454h0M703 677h0M343 709h0M722 707h0M519 385h0M372 465h0M513 733h0M580 508h0M511 482h0M681 574h0M594 518h0M379 543h0M374 640h0M437 512h0M605 736h0M387 529h0M258 546h0M696 576h0M402 489h0M570 518h0M383 610h0M351 713h0M648 501h0M353 655h0M345 568h0M691 594h0M781 583h0M313 688h0M365 632h0M264 453h0M656 735h0M325 541h0M606 467h0M300 658h0M434 289h0M728 701h0M407 734h0M516 736h0M481 449h0M572 505h0M653 566h0M573 736h0M443 454h0M529 447h0M763 677h0M456 444h0M379 700h0M631 570h0M677 464h0M403 459h0M307 664h0M393 487h0M188 554h0M415 497h0M561 394h0M569 419h0M637 581h0M741 625h0M715 635h0M694 615h0M257 698h0M587 385h0M608 437h0M374 700h0M696 604h0M618 437h0M538 733h0M744 587h0M395 580h0M340 703h0M385 505h0M453 481h0M481 422h0M551 401h0M291 662h0M656 569h0M692 488h0M571 422h0M249 650h0M695 287h0M750 552h0M619 381h0M393 582h0M520 350h0M709 529h0M477 465h0M724 696h0M341 612h0M437 379h0M477 441h0M442 438h0M652 737h0M295 633h0M522 491h0M313 631h0M614 490h0M182 644h0M315 633h0M404 611h0M267 415h0M644 399h0M726 610h0M841 648h0M448 455h0M593 733h0M783 690h0M603 404h0M673 497h0M490 283h0M725 672h0M430 463h0M507 496h0M759 657h0M567 513h0M573 427h0M415 553h0M707 663h0M543 735h0M760 669h0M758 568h0M416 539h0M335 704h0M685 637h0M343 354h0M331 635h0M420 380h0M521 276h0M510 294h0M335 478h0M375 542h0M289 709h0M719 661h0M618 404h0M317 635h0M700 366h0M723 723h0M556 485h0M816 597h0M505 457h0M765 570h0M736 597h0M752 568h0M293 484h0M632 737h0M725 484h0M661 174h0M561 420h0M344 630h0M739 553h0M690 612h0M510 496h0M341 615h0M774 642h0M540 387h0M770 600h0M745 565h0M332 582h0M683 515h0M266 669h0M332 726h0M727 562h0M398 612h0M249 670h0M411 557h0M312 720h0M345 555h0M380 551h0M327 622h0M671 305h0M776 677h0M729 628h0M667 555h0M293 287h0M297 651h0M264 525h0M339 517h0M693 491h0M458 441h0M575 457h0M480 382h0M778 552h0M388 405h0M739 606h0M761 555h0M584 410h0M407 504h0M777 618h0M325 570h0M295 521h0M835 646h0M685 530h0M303 735h0M344 576h0M266 711h0M394 517h0M264 726h0M772 719h0M363 535h0M737 723h0M608 422h0M361 554h0M703 448h0M392 503h0M682 573h0M291 440h0M712 683h0M707 574h0M556 313h0M506 309h0M491 342h0M332 597h0M793 571h0M451 376h0M411 453h0M639 228h0M403 734h0M612 489h0M523 734h0M738 608h0M407 413h0M716 669h0M395 479h0M483 455h0M433 440h0M749 499h0" fill="none" stroke="#243984" stroke-opacity="0.8" stroke-width="15" stroke-linecap="round"/><path d="M469 632h0M602 204h0M662 552h0M375 610h0M652 729h0M529 596h0M744 653h0M562 598h0M415 679h0M525 459h0M655 719h0M607 726h0M472 654h0M520 655h0M684 346h0M598 557h0M594 629h0M463 667h0M442 688h0M651 677h0M723 626h0M412 344h0M566 690h0M404 609h0M570 656h0M571 656h0M660 599h0M601 732h0M569 610h0M629 462h0M454 711h0M542 599h0M593 443h0M758 679h0M623 691h0M554 729h0M478 661h0M618 705h0M562 624h0M575 715h0M500 721h0M526 492h0M594 519h0M532 622h0M644 694h0M734 700h0M529 598h0M556 594h0M660 589h0M711 424h0M440 506h0M524 559h0M643 534h0M462 645h0M580 384h0M457 702h0M648 632h0M521 640h0M461 541h0M555 698h0M401 686h0M610 592h0M550 638h0M564 604h0M661 657h0M559 527h0M482 682h0M560 324h0M503 628h0M475 726h0M666 464h0M512 593h0M607 483h0M292 716h0M557 658h0M603 522h0M517 659h0M636 587h0M488 671h0M478 568h0M585 661h0M510 618h0M673 433h0M549 723h0M557 671h0M438 642h0M563 696h0M502 621h0M800 687h0M608 627h0M306 686h0M487 504h0M556 621h0M555 609h0M641 498h0M726 649h0M672 472h0M545 543h0M454 723h0M515 657h0M612 653h0M626 473h0M318 735h0M635 342h0M496 484h0M628 618h0M563 650h0M425 671h0M446 606h0M494 642h0M342 701h0M468 613h0M467 695h0M504 596h0M734 644h0M364 728h0M617 716h0M710 470h0M461 667h0M583 709h0M670 710h0M767 663h0M766 621h0M570 390h0M461 703h0M482 519h0M478 571h0M487 572h0M426 616h0M619 395h0M404 588h0M566 460h0M625 707h0M473 581h0M664 385h0M587 710h0M527 631h0M496 532h0M604 687h0M470 444h0M704 587h0M521 608h0M393 561h0M571 629h0M651 735h0M616 664h0M523 586h0M681 693h0M704 716h0M498 492h0M482 653h0M409 732h0M292 677h0M491 598h0M519 527h0M737 571h0M451 500h0M388 543h0M572 669h0M324 680h0M340 610h0M574 678h0M392 548h0M506 715h0M521 644h0M617 453h0M545 542h0M680 548h0M510 614h0M456 673h0M567 726h0M440 670h0M547 625h0M556 672h0M451 355h0M540 624h0M461 672h0M679 618h0M338 605h0M686 540h0M518 725h0M522 511h0M640 626h0M711 539h0M449 591h0M676 622h0M353 728h0M538 416h0M313 631h0M609 543h0M492 559h0M600 464h0M676 601h0M634 724h0M648 634h0M382 654h0M698 700h0M589 714h0M401 580h0M624 650h0M579 428h0M533 526h0M399 648h0M509 643h0M389 476h0M502 729h0M699 710h0M625 624h0M386 620h0M411 676h0M420 706h0M337 673h0M647 479h0M357 544h0M534 522h0M532 625h0M526 674h0M632 434h0M565 404h0M581 691h0M751 673h0M704 615h0M676 641h0M453 660h0M414 486h0M566 666h0M554 690h0M539 648h0M696 581h0M455 684h0M323 685h0M409 701h0M779 638h0M597 636h0M463 448h0M537 728h0M504 645h0M563 609h0M331 664h0M540 655h0M490 684h0M747 724h0M618 616h0M662 608h0M627 702h0M554 674h0M637 662h0M578 598h0M517 654h0M538 640h0M502 571h0M632 372h0M521 714h0M388 555h0M602 651h0M418 660h0M562 629h0M269 638h0M606 660h0M577 582h0M593 390h0M644 616h0M480 620h0M516 685h0M789 693h0M447 525h0M496 595h0M660 699h0M489 682h0M484 603h0M475 621h0M330 603h0M604 558h0M452 464h0M513 633h0M374 652h0M405 650h0M488 524h0M357 655h0M480 660h0M567 736h0M446 546h0M713 696h0M543 640h0M612 544h0M380 629h0M535 627h0M544 646h0M491 617h0M649 457h0M383 665h0M391 580h0M610 696h0M425 674h0M465 617h0M698 555h0M292 715h0M708 620h0M509 610h0M573 618h0M500 733h0M400 706h0M600 418h0M604 617h0M558 691h0M575 598h0M473 480h0M542 730h0M582 664h0M465 668h0M514 580h0M457 650h0M617 723h0M364 670h0M673 717h0M528 464h0M458 433h0M466 726h0M509 682h0M688 588h0M487 430h0M601 733h0M430 544h0M621 508h0M573 721h0M404 624h0M463 677h0M531 578h0M767 691h0M488 638h0M663 661h0M546 505h0M371 694h0M600 529h0M579 710h0M623 515h0M477 448h0M553 722h0M668 465h0M506 406h0M582 641h0M495 538h0M482 621h0M656 531h0M475 735h0M686 584h0M522 590h0M442 720h0M699 677h0M666 488h0M732 647h0M509 568h0M573 645h0M478 728h0M509 475h0M607 668h0M351 505h0M397 688h0M592 618h0M288 616h0M583 504h0M370 686h0M519 420h0M471 709h0M701 601h0M574 579h0M327 719h0M390 713h0M586 530h0M312 666h0M369 670h0M387 697h0M278 715h0M656 671h0M558 687h0M496 614h0M452 580h0M514 732h0M671 615h0M545 669h0M698 683h0M593 690h0M284 668h0M532 585h0M588 396h0M677 658h0M557 716h0M374 669h0M682 539h0M531 432h0M680 689h0M474 676h0M364 655h0M544 733h0M452 624h0M575 571h0M688 547h0M434 600h0M692 687h0M431 637h0M593 591h0M769 666h0M673 493h0M596 502h0M453 535h0M385 629h0M485 539h0M785 654h0M524 729h0M419 685h0M661 396h0M299 680h0M408 619h0M271 697h0M625 673h0M689 706h0M614 684h0M668 634h0M605 668h0M446 676h0M548 589h0M451 727h0M598 385h0M657 589h0M364 736h0M627 481h0M432 497h0M412 665h0M523 575h0M754 736h0M570 630h0M618 493h0M645 537h0M673 567h0M544 460h0M705 708h0M425 650h0M553 548h0M448 630h0M760 376h0M320 652h0M745 706h0M434 544h0M704 586h0M776 447h0M577 647h0M374 517h0M528 307h0M446 593h0M681 672h0M569 662h0M538 517h0M416 572h0M475 514h0M528 729h0M565 715h0M507 473h0M633 441h0M668 590h0M437 560h0M494 530h0M386 608h0M460 553h0M746 577h0M736 479h0M385 679h0M747 649h0M213 600h0M711 501h0M488 386h0M709 651h0M509 435h0M406 719h0M565 680h0M581 549h0M681 478h0M672 636h0M385 691h0M657 373h0M600 494h0M697 511h0M418 594h0M519 595h0M508 600h0M490 613h0M714 525h0M589 489h0M549 483h0M569 551h0M672 530h0M641 561h0M482 559h0M707 466h0M639 642h0M701 530h0M546 518h0M654 651h0M409 646h0M316 717h0M539 460h0M635 623h0M719 596h0M305 726h0M312 634h0M451 574h0M441 631h0M530 487h0M361 719h0M428 502h0M570 729h0M444 581h0M373 629h0M397 331h0M569 567h0M367 530h0M670 597h0M545 473h0M631 708h0M667 650h0M716 681h0M506 504h0M603 660h0M605 437h0M477 490h0M738 644h0M289 574h0M357 547h0M457 600h0M715 653h0M622 643h0M536 425h0M413 602h0M395 650h0M431 624h0M538 539h0M421 658h0M524 377h0M297 559h0M392 658h0M704 604h0M604 460h0M541 338h0M680 698h0M781 481h0M315 708h0M468 541h0M446 729h0M779 711h0M243 619h0M391 629h0M510 343h0M516 527h0M600 436h0M647 581h0M641 447h0M296 698h0M384 603h0M394 619h0M375 689h0M619 729h0M405 557h0M286 408h0M376 671h0M525 356h0M778 618h0M429 687h0M330 567h0M718 641h0M432 539h0M553 580h0M690 598h0M614 589h0M711 532h0M537 435h0M404 625h0M566 537h0M553 448h0M387 671h0M524 459h0M655 552h0M335 678h0M652 437h0M643 425h0M342 706h0M627 528h0M683 707h0M440 472h0M757 661h0M511 526h0M332 702h0M406 692h0M549 519h0M677 680h0M583 544h0M685 481h0M553 494h0M627 450h0M659 607h0M586 728h0M731 589h0M598 578h0M459 420h0M597 512h0M596 530h0M672 627h0M759 713h0M488 479h0M508 317h0M619 736h0M439 528h0M526 506h0M389 483h0M670 707h0M770 480h0M601 479h0M431 487h0M672 650h0M401 635h0M702 665h0M337 728h0M449 494h0M441 255h0M679 702h0M358 587h0M559 509h0M354 448h0M413 652h0M724 626h0M415 612h0M292 534h0M291 647h0M428 648h0M700 548h0M456 486h0M698 698h0M636 376h0M611 594h0M332 540h0M615 571h0M499 417h0M436 434h0M668 604h0M636 424h0M483 436h0M611 603h0M734 542h0M533 547h0M484 389h0M487 558h0M538 537h0M800 564h0M634 533h0M672 619h0M817 695h0M666 408h0M650 574h0M570 483h0M705 555h0M399 710h0M534 433h0M395 725h0M526 547h0M568 388h0M458 437h0M679 617h0M445 551h0M493 348h0M819 327h0M524 523h0M365 537h0M502 425h0M590 551h0M679 687h0M346 677h0M456 378h0M378 724h0M954 555h0M494 508h0M302 593h0M466 506h0M676 633h0M746 553h0M532 452h0M824 561h0M494 503h0M551 509h0M398 313h0M688 623h0M292 664h0M399 549h0M404 584h0M624 534h0M383 634h0M425 484h0M416 577h0M739 727h0M364 640h0M681 645h0M247 551h0M293 540h0M382 733h0M393 523h0M536 732h0M748 614h0M397 560h0M328 654h0M359 479h0M550 736h0M537 412h0M351 665h0M296 600h0M409 526h0M683 737h0M735 672h0M522 471h0M336 333h0M299 462h0M375 617h0M356 675h0M543 505h0M388 476h0M515 422h0M507 304h0M684 731h0M768 627h0M643 428h0M726 702h0M354 737h0M742 574h0M763 513h0M332 427h0M742 645h0M375 567h0M735 644h0M803 576h0M531 303h0M737 664h0M717 602h0M319 641h0M739 682h0M702 515h0M474 387h0M372 531h0M710 698h0M341 610h0M795 488h0M765 590h0M436 515h0M668 733h0M285 548h0M705 613h0M585 458h0M590 305h0M748 579h0M627 530h0M545 502h0M478 382h0M238 668h0M293 524h0M644 416h0M361 690h0M652 400h0M491 436h0M528 735h0M769 548h0M530 736h0M268 730h0M718 734h0M397 618h0M338 731h0M775 496h0M569 485h0M485 734h0M489 453h0M555 294h0M337 642h0M445 375h0M295 619h0M355 519h0M327 448h0M630 451h0M611 404h0M506 381h0M661 330h0M352 519h0M757 674h0M453 731h0M370 570h0M676 501h0M771 640h0M628 500h0M476 365h0M364 573h0M234 708h0M659 456h0M344 593h0M473 733h0M749 679h0M559 734h0M584 461h0M364 581h0M473 477h0M529 301h0M352 575h0M384 325h0M675 568h0M474 733h0M341 613h0M733 671h0M449 730h0M442 452h0M540 737h0M693 524h0M717 714h0M585 445h0M697 642h0M668 525h0M727 629h0M571 476h0M643 458h0M712 674h0M756 693h0M726 561h0M492 496h0M795 676h0M413 544h0M542 417h0M738 670h0M519 188h0M349 729h0M413 385h0M202 730h0M469 500h0M312 335h0M318 565h0M753 579h0M447 731h0M491 463h0M406 456h0M465 382h0M706 567h0M475 488h0M187 604h0M288 635h0M569 384h0M578 393h0M728 585h0M641 478h0M347 686h0M681 533h0M372 515h0M531 737h0M691 558h0M657 447h0M840 502h0M338 721h0M744 497h0M396 408h0M796 687h0M708 726h0M637 412h0M430 732h0M434 473h0M345 643h0M627 431h0M727 566h0M728 550h0M676 562h0M504 118h0M380 432h0M282 699h0M614 518h0M747 471h0M488 396h0M711 550h0M737 510h0M853 731h0M517 484h0M207 661h0M619 413h0M738 677h0M769 522h0M726 546h0M506 498h0M606 402h0M515 366h0M575 309h0M770 467h0M789 650h0M517 402h0M703 501h0M229 722h0M421 342h0M703 546h0M768 544h0M369 330h0M722 484h0M319 651h0M675 395h0M768 711h0M738 613h0M471 488h0M650 349h0M476 444h0M312 729h0M435 735h0M313 684h0M364 573h0M383 560h0M423 464h0M394 468h0M427 426h0M350 439h0M631 735h0M373 486h0M547 430h0M601 347h0M425 735h0M622 434h0M382 566h0M782 568h0M416 515h0M626 376h0M363 538h0M673 517h0M733 547h0M552 435h0M291 603h0M582 735h0M723 563h0M480 451h0M688 577h0" fill="none" stroke="#243984" stroke-opacity="0.8" stroke-width="15" stroke-linecap="round"/><path d="M504 615h0M559 622h0M506 517h0M549 653h0M293 701h0M715 420h0M621 565h0M498 658h0M312 666h0M558 350h0M591 501h0M479 483h0M752 630h0M406 622h0M564 706h0M446 635h0M598 648h0M487 657h0M341 653h0M332 654h0M387 618h0M573 604h0M366 526h0M519 295h0M391 522h0M658 537h0M558 696h0M621 718h0M499 672h0M440 511h0M651 509h0M610 707h0M601 510h0M729 735h0M413 684h0M447 434h0M294 559h0M486 665h0M652 524h0M416 572h0M704 720h0M544 586h0M719 658h0M526 676h0M787 591h0M573 730h0M605 562h0M654 642h0M464 565h0M447 711h0M405 560h0M668 578h0M410 489h0M632 690h0M424 619h0M660 712h0M508 682h0M642 610h0M848 722h0M591 648h0M393 735h0M571 598h0M701 404h0M421 691h0M564 504h0M604 683h0M576 523h0M411 594h0M704 537h0M444 702h0M594 649h0M351 562h0M637 558h0M528 488h0M534 712h0M550 716h0M469 537h0M613 704h0M421 595h0M830 581h0M771 593h0M597 583h0M551 532h0M376 589h0M636 719h0M622 674h0M494 563h0M551 736h0M530 664h0M823 618h0M787 607h0M399 584h0M521 641h0M495 571h0M644 628h0M533 523h0M449 592h0M467 598h0M667 398h0M418 631h0M518 626h0M524 732h0M669 625h0M502 639h0M471 656h0M597 411h0M390 554h0M548 482h0M581 698h0M516 517h0M566 554h0M664 580h0M974 362h0M516 706h0M647 574h0M497 731h0M591 486h0M641 550h0M597 461h0M645 491h0M427 438h0M312 565h0M471 681h0M621 674h0M545 450h0M346 608h0M475 547h0M482 678h0M480 540h0M745 580h0M574 356h0M383 536h0M492 531h0M508 541h0M397 510h0M378 683h0M439 655h0M621 615h0M376 731h0M453 728h0M692 597h0M471 647h0M660 611h0M533 561h0M333 479h0M608 634h0M549 640h0M505 679h0M573 728h0M750 709h0M491 399h0M487 715h0M542 707h0M370 735h0M464 718h0M361 406h0M542 609h0M438 711h0M557 556h0M625 724h0M487 679h0M517 551h0M678 431h0M583 713h0M480 700h0M793 591h0M479 544h0M334 593h0M480 593h0M435 722h0M636 460h0M466 604h0M497 679h0M349 673h0M500 346h0M586 674h0M709 540h0M422 660h0M515 530h0M505 734h0M525 532h0M683 580h0M615 619h0M419 556h0M530 538h0M449 614h0M667 545h0M474 616h0M544 718h0M297 570h0M493 708h0M519 721h0M451 670h0M400 693h0M418 626h0M611 553h0M579 530h0M435 503h0M690 551h0M644 688h0M506 727h0M516 625h0M474 328h0M629 561h0M312 722h0M715 706h0M479 704h0M499 596h0M685 703h0M545 577h0M442 376h0M340 719h0M722 648h0M485 679h0M658 721h0M330 677h0M713 613h0M482 501h0M621 727h0M478 638h0M698 610h0M488 642h0M578 493h0M636 615h0M508 702h0M609 695h0M320 551h0M529 727h0M410 716h0M541 549h0M432 732h0M334 526h0M521 641h0M379 735h0M332 569h0M435 674h0M615 691h0M426 703h0M460 518h0M405 424h0M506 636h0M676 583h0M394 567h0M638 616h0M612 698h0M570 705h0M503 593h0M603 724h0M375 516h0M663 663h0M486 730h0M497 697h0M442 534h0M406 689h0M622 599h0M522 737h0M605 467h0M309 625h0M449 527h0M607 718h0M528 690h0M447 637h0M561 556h0M594 542h0M492 668h0M426 582h0M482 620h0M494 694h0M442 600h0M710 650h0M662 660h0M561 501h0M582 591h0M355 480h0M719 615h0M635 638h0M642 549h0M437 730h0M562 519h0M421 462h0M614 399h0M654 663h0M320 578h0M550 410h0M703 385h0M431 733h0M484 662h0M525 574h0M459 681h0M371 483h0M522 527h0M787 637h0M543 576h0M701 470h0M409 461h0M546 624h0M450 401h0M363 647h0M467 685h0M653 689h0M551 420h0M572 374h0M396 639h0M574 725h0M561 517h0M473 645h0M376 205h0M545 611h0M739 703h0M532 705h0M512 634h0M602 667h0M462 722h0M448 479h0M363 549h0M552 492h0M353 680h0M651 446h0M451 695h0M474 709h0M419 551h0M570 660h0M561 546h0M762 697h0M534 411h0M425 703h0M466 651h0M539 578h0M676 488h0M332 685h0M573 665h0M567 650h0M374 585h0M563 502h0M487 729h0M652 707h0M807 731h0M537 690h0M660 720h0M698 737h0M406 570h0M546 697h0M618 483h0M441 605h0M738 615h0M659 674h0M375 474h0M483 722h0M578 588h0M624 625h0M482 544h0M668 579h0M501 405h0M599 379h0M539 607h0M452 605h0M220 709h0M417 543h0M420 629h0M446 644h0M692 627h0M487 596h0M689 596h0M642 599h0M524 699h0M771 736h0M583 629h0M350 695h0M420 655h0M529 700h0M236 699h0M589 624h0M672 666h0M552 379h0M762 456h0M683 703h0M535 600h0M649 614h0M555 552h0M477 700h0M485 677h0M599 486h0M524 726h0M686 350h0M635 639h0M586 595h0M740 717h0M369 516h0M543 635h0M399 684h0M360 695h0M379 581h0M552 562h0M614 656h0M444 689h0M587 528h0M710 505h0M659 670h0M647 419h0M641 630h0M646 654h0M507 414h0M435 478h0M803 714h0M505 522h0M590 662h0M393 571h0M383 469h0M427 534h0M566 528h0M605 575h0M336 431h0M702 500h0M599 657h0M420 733h0M402 542h0M480 694h0M475 687h0M541 694h0M474 507h0M683 726h0M277 636h0M573 399h0M605 671h0M485 736h0M619 634h0M472 663h0M588 685h0M730 610h0M393 706h0M589 564h0M615 611h0M448 650h0M571 584h0M632 656h0M534 697h0M467 588h0M574 540h0M672 720h0M586 655h0M703 654h0M676 389h0M431 493h0M415 606h0M596 658h0M526 617h0M692 622h0M491 361h0M752 666h0M684 598h0M431 601h0M771 674h0M548 540h0M665 494h0M449 509h0M433 631h0M539 417h0M526 436h0M457 624h0M654 702h0M673 585h0M335 634h0M558 471h0M412 569h0M660 627h0M758 694h0M417 648h0M372 575h0M433 614h0M450 540h0M739 468h0M699 713h0M557 733h0M580 628h0M617 602h0M712 475h0M416 499h0M410 701h0M653 616h0M424 557h0M424 505h0M562 259h0M718 690h0M420 655h0M595 614h0M437 557h0M607 616h0M436 431h0M341 730h0M607 643h0M674 544h0M425 403h0M474 509h0M754 647h0M415 593h0M727 600h0M415 570h0M353 564h0M438 731h0M549 627h0M741 620h0M249 729h0M547 734h0M325 672h0M394 422h0M711 501h0M749 584h0M577 363h0M396 731h0M296 645h0M734 720h0M624 698h0M402 705h0M417 706h0M497 442h0M672 716h0M658 536h0M766 536h0M598 447h0M475 537h0M570 577h0M348 656h0M502 491h0M401 669h0M469 536h0M439 522h0M506 541h0M660 730h0M608 550h0M300 548h0M288 673h0M326 734h0M759 547h0M744 698h0M285 346h0M475 463h0M615 561h0M667 586h0M753 588h0M716 689h0M521 733h0M658 514h0M541 480h0M476 523h0M403 388h0M482 490h0M614 386h0M336 562h0M319 589h0M308 525h0M597 597h0M653 583h0M550 532h0M482 512h0M573 548h0M514 336h0M463 533h0M312 638h0M653 518h0M430 522h0M464 524h0M376 690h0M299 662h0M569 467h0M393 529h0M646 445h0M561 489h0M597 615h0M499 471h0M665 362h0M269 630h0M534 565h0M480 529h0M719 643h0M514 737h0M299 709h0M471 469h0M685 632h0M357 629h0M456 517h0M466 591h0M663 534h0M486 510h0M395 575h0M933 555h0M582 734h0M688 716h0M547 551h0M330 659h0M464 409h0M389 450h0M388 583h0M574 518h0M650 686h0M473 384h0M706 643h0M649 624h0M540 337h0M653 675h0M713 639h0M490 273h0M460 329h0M603 501h0M464 572h0M483 442h0M609 562h0M691 662h0M348 716h0M574 735h0M492 386h0M684 690h0M595 735h0M417 608h0M602 736h0M330 714h0M535 611h0M624 409h0M285 633h0M571 464h0M481 556h0M445 535h0M420 692h0M565 573h0M349 605h0M552 449h0M475 246h0M380 617h0M689 726h0M740 706h0M494 464h0M625 516h0M477 462h0M436 489h0M660 448h0M704 691h0M407 448h0M588 488h0M645 716h0M584 499h0M554 496h0M387 639h0M404 627h0M716 596h0M439 562h0M403 686h0M385 658h0M626 736h0M695 672h0M449 570h0M669 567h0M572 506h0M719 716h0M390 569h0M391 672h0M807 545h0M376 596h0M604 532h0M690 561h0M681 543h0M517 732h0M703 329h0M302 583h0M684 581h0M425 576h0M386 734h0M639 706h0M444 567h0M344 616h0M500 530h0M711 682h0M542 481h0M365 467h0M750 619h0M852 713h0M355 544h0M328 700h0M505 364h0M617 537h0M722 622h0M717 647h0M629 391h0M863 680h0M457 488h0M684 456h0M553 736h0M699 489h0M670 415h0M679 479h0M657 324h0M457 506h0M546 386h0M496 331h0M350 619h0M694 363h0M720 635h0M533 489h0M386 439h0M666 515h0M625 526h0M712 671h0M438 312h0M718 687h0M519 736h0M444 512h0M683 592h0M610 442h0M359 559h0M440 469h0M800 645h0M369 565h0M645 382h0M809 622h0M119 638h0M308 716h0M298 705h0M664 555h0M617 389h0M721 697h0M369 706h0M590 515h0M337 641h0M704 689h0M473 417h0M336 474h0M579 331h0M590 501h0M692 454h0M517 443h0M457 441h0M652 401h0M522 476h0M367 617h0M635 499h0M349 633h0M373 538h0M655 532h0M660 613h0M679 614h0M365 549h0M706 554h0M724 598h0M747 441h0M641 432h0M874 656h0M570 396h0M457 496h0M531 733h0M786 473h0M740 562h0M512 406h0M696 532h0M450 381h0M258 573h0M218 734h0M723 734h0M305 619h0M522 484h0M440 465h0M743 650h0M350 644h0M296 720h0M596 494h0M574 408h0M574 404h0M448 736h0M396 461h0M519 447h0M736 574h0M377 412h0M363 617h0M502 419h0M294 707h0M791 720h0M480 490h0M364 699h0M462 468h0M444 393h0M609 458h0M511 524h0M218 656h0M684 405h0M266 528h0M743 282h0M304 578h0M308 662h0M516 379h0M841 602h0M369 692h0M275 531h0M704 619h0M401 526h0M696 495h0M278 572h0M341 355h0M643 428h0M493 468h0M733 684h0M633 521h0M782 693h0M304 675h0M392 516h0M263 511h0M557 736h0M675 698h0M675 687h0M726 737h0M795 544h0M657 515h0M661 564h0M465 363h0M521 423h0M521 405h0M740 566h0M724 716h0M343 492h0M420 418h0M652 403h0M480 388h0M622 493h0M490 419h0M849 507h0M240 700h0M255 734h0M514 460h0M683 530h0M679 608h0M696 572h0M664 485h0M769 655h0M417 524h0M669 455h0M344 581h0M758 624h0M742 719h0M347 471h0M510 429h0M552 422h0M579 311h0M491 458h0M642 476h0M731 611h0M634 369h0M717 703h0M558 294h0M443 734h0M506 389h0M672 450h0M617 474h0M608 734h0M324 590h0M754 706h0M330 709h0M739 563h0M405 530h0M810 719h0M305 579h0M733 480h0M754 736h0M329 665h0M596 411h0M378 493h0M715 502h0M346 686h0M417 449h0M731 663h0M632 290h0M519 417h0M329 638h0M577 444h0M271 540h0M673 735h0M611 352h0M696 443h0M547 437h0M375 563h0M702 734h0M451 342h0M603 449h0M600 447h0M328 594h0M614 459h0M519 499h0M734 659h0M355 469h0M541 406h0M452 373h0M767 520h0M361 506h0M333 713h0M374 524h0M397 291h0M281 608h0M470 436h0M307 699h0M450 452h0M282 483h0M592 435h0M460 495h0M312 528h0M504 393h0M764 585h0M772 495h0M510 413h0M562 449h0M354 483h0M371 437h0M372 436h0M410 406h0M808 371h0M755 673h0M302 646h0M576 736h0M719 665h0M797 577h0M493 396h0M482 405h0M379 501h0M490 457h0M484 391h0M437 367h0M577 392h0M662 454h0M464 415h0M455 368h0M172 624h0M701 442h0M754 617h0M286 645h0M284 730h0M795 656h0M749 696h0M371 523h0" fill="none" stroke="#243984" stroke-opacity="0.8" stroke-width="15" stroke-linecap="round"/><path d="M484 559h0M435 637h0M494 307h0M624 676h0M508 712h0M626 624h0M405 496h0M798 651h0M585 405h0M505 630h0M505 439h0M491 700h0M412 629h0M621 719h0M785 696h0M489 709h0M615 510h0M731 559h0M745 465h0M574 596h0M477 571h0M539 643h0M505 601h0M556 656h0M606 736h0M461 554h0M536 636h0M607 630h0M568 625h0M711 592h0M640 725h0M520 580h0M421 533h0M447 660h0M475 638h0M659 731h0M429 501h0M601 453h0M386 590h0M594 468h0M535 663h0M704 400h0M398 698h0M484 629h0M520 735h0M487 736h0M284 717h0M513 605h0M650 405h0M918 353h0M705 646h0M507 481h0M510 672h0M578 725h0M364 662h0M540 622h0M514 603h0M480 612h0M739 674h0M503 577h0M591 526h0M788 597h0M429 593h0M720 594h0M662 624h0M403 544h0M477 631h0M676 521h0M487 467h0M344 558h0M462 527h0M563 673h0M629 369h0M521 692h0M545 616h0M430 516h0M306 667h0M599 643h0M354 690h0M613 690h0M609 530h0M470 429h0M288 693h0M553 706h0M533 548h0M480 530h0M595 711h0M630 701h0M562 609h0M888 461h0M583 722h0M560 611h0M584 650h0M593 665h0M468 450h0M476 609h0M653 642h0M536 498h0M372 626h0M504 564h0M604 683h0M531 644h0M763 631h0M410 426h0M436 666h0M620 721h0M421 681h0M657 572h0M512 469h0M445 728h0M457 692h0M527 729h0M554 690h0M482 635h0M746 662h0M366 546h0M404 670h0M296 619h0M512 633h0M314 572h0M528 712h0M614 719h0M495 614h0M546 702h0M658 527h0M419 420h0M666 558h0M443 668h0M575 589h0M623 607h0M424 702h0M728 717h0M544 681h0M568 685h0M550 707h0M397 601h0M462 632h0M550 521h0M719 478h0M494 721h0M554 514h0M579 642h0M596 586h0M670 414h0M525 628h0M486 729h0M505 718h0M610 636h0M500 549h0M683 648h0M717 466h0M462 624h0M421 714h0M562 525h0M422 691h0M325 592h0M629 641h0M679 375h0M685 406h0M657 542h0M366 679h0M647 713h0M452 588h0M673 349h0M433 573h0M637 669h0M514 626h0M530 554h0M508 714h0M373 497h0M416 391h0M394 698h0M506 694h0M674 635h0M460 703h0M689 599h0M474 502h0M370 662h0M334 405h0M518 630h0M609 663h0M812 688h0M571 613h0M740 508h0M569 566h0M596 638h0M456 566h0M386 735h0M670 391h0M817 649h0M329 621h0M618 696h0M663 537h0M469 711h0M367 621h0M493 725h0M434 681h0M613 709h0M455 543h0M546 452h0M729 682h0M697 629h0M491 548h0M552 549h0M371 464h0M523 641h0M762 326h0M523 680h0M867 706h0M387 683h0M460 669h0M683 707h0M358 726h0M683 717h0M423 610h0M463 725h0M464 593h0M640 517h0M592 710h0M477 592h0M475 421h0M309 656h0M519 561h0M648 596h0M778 722h0M337 729h0M525 636h0M619 620h0M607 532h0M403 638h0M697 589h0M281 684h0M391 494h0M513 667h0M350 619h0M459 517h0M497 483h0M354 601h0M675 614h0M473 598h0M598 465h0M606 506h0M411 384h0M525 448h0M323 690h0M496 456h0M380 648h0M486 582h0M363 619h0M436 711h0M651 737h0M602 684h0M466 515h0M661 658h0M284 698h0M335 674h0M491 612h0M446 428h0M560 447h0M602 506h0M563 639h0M562 729h0M548 661h0M453 648h0M591 574h0M551 498h0M445 735h0M232 635h0M490 720h0M857 720h0M598 672h0M717 631h0M512 459h0M592 616h0M313 658h0M590 630h0M474 603h0M426 518h0M391 542h0M515 580h0M647 412h0M453 562h0M607 675h0M778 602h0M569 422h0M605 691h0M521 661h0M459 696h0M453 278h0M384 693h0M426 697h0M513 592h0M366 628h0M398 703h0M773 482h0M545 701h0M608 684h0M565 725h0M606 698h0M409 551h0M518 624h0M633 535h0M670 716h0M599 650h0M577 731h0M376 633h0M800 692h0M605 715h0M710 556h0M622 496h0M457 552h0M555 641h0M717 731h0M509 492h0M657 686h0M366 484h0M913 482h0M493 424h0M449 339h0M483 724h0M654 682h0M456 596h0M544 594h0M495 694h0M310 594h0M755 430h0M276 490h0M634 686h0M576 529h0M496 568h0M575 693h0M506 516h0M384 605h0M606 714h0M651 508h0M629 679h0M456 648h0M298 619h0M304 512h0M491 543h0M575 697h0M555 662h0M465 723h0M530 718h0M529 722h0M712 511h0M424 665h0M542 656h0M443 706h0M455 599h0M379 703h0M686 569h0M710 633h0M314 688h0M682 504h0M603 519h0M446 709h0M498 483h0M352 647h0M562 529h0M591 485h0M451 609h0M339 736h0M401 649h0M543 681h0M489 530h0M346 729h0M547 732h0M491 528h0M458 535h0M555 550h0M455 623h0M337 688h0M739 670h0M643 440h0M465 494h0M409 681h0M343 657h0M425 576h0M657 619h0M780 676h0M661 647h0M732 700h0M410 630h0M616 680h0M736 638h0M588 729h0M657 707h0M643 443h0M582 602h0M578 720h0M418 659h0M372 479h0M338 604h0M708 604h0M522 620h0M569 682h0M657 613h0M512 302h0M568 558h0M353 681h0M418 576h0M329 632h0M621 641h0M538 549h0M564 693h0M511 537h0M597 475h0M531 487h0M665 665h0M318 688h0M541 703h0M564 378h0M548 523h0M577 729h0M422 720h0M543 578h0M444 597h0M463 638h0M578 665h0M560 712h0M663 538h0M657 616h0M499 545h0M576 708h0M376 576h0M419 681h0M646 722h0M454 449h0M542 706h0M480 572h0M673 473h0M591 679h0M724 611h0M436 610h0M503 539h0M685 647h0M417 703h0M614 436h0M581 645h0M437 657h0M276 535h0M739 697h0M703 560h0M535 559h0M458 569h0M711 579h0M709 533h0M589 690h0M455 580h0M350 628h0M508 734h0M626 732h0M443 725h0M666 726h0M438 355h0M331 682h0M596 723h0M754 631h0M538 528h0M723 210h0M410 732h0M534 617h0M528 562h0M435 731h0M647 544h0M538 557h0M569 684h0M463 323h0M427 630h0M685 507h0M346 529h0M368 673h0M369 341h0M695 608h0M641 511h0M514 493h0M789 575h0M639 602h0M613 670h0M320 504h0M471 474h0M547 689h0M356 696h0M422 579h0M430 639h0M687 705h0M564 345h0M393 674h0M598 566h0M509 426h0M638 508h0M569 703h0M323 619h0M338 603h0M508 449h0M769 666h0M509 543h0M656 581h0M702 630h0M411 482h0M440 584h0M536 556h0M625 628h0M519 488h0M517 411h0M627 665h0M484 732h0M421 518h0M540 569h0M701 589h0M388 545h0M350 623h0M413 695h0M531 589h0M404 526h0M438 684h0M471 732h0M369 690h0M466 516h0M655 656h0M778 655h0M716 405h0M677 679h0M641 626h0M672 510h0M307 644h0M544 522h0M498 583h0M672 639h0M673 491h0M432 618h0M659 596h0M408 580h0M391 649h0M342 608h0M300 671h0M828 665h0M596 509h0M629 543h0M426 503h0M505 472h0M319 696h0M710 693h0M546 524h0M647 468h0M568 460h0M319 585h0M829 697h0M501 410h0M662 502h0M579 467h0M551 532h0M761 635h0M415 657h0M575 616h0M335 706h0M790 735h0M365 550h0M677 553h0M488 443h0M375 470h0M414 548h0M520 425h0M446 460h0M393 602h0M649 498h0M338 622h0M287 705h0M440 415h0M587 473h0M598 610h0M686 647h0M655 531h0M639 503h0M617 651h0M506 543h0M354 422h0M663 562h0M480 516h0M669 651h0M640 466h0M455 473h0M823 711h0M337 734h0M596 586h0M614 577h0M469 736h0M620 735h0M468 521h0M498 515h0M391 625h0M386 634h0M397 673h0M392 645h0M473 561h0M378 502h0M767 666h0M400 267h0M642 577h0M660 452h0M579 582h0M462 329h0M457 573h0M649 643h0M420 446h0M490 509h0M490 483h0M617 478h0M548 422h0M661 610h0M808 649h0M364 645h0M732 431h0M517 528h0M733 734h0M572 540h0M695 525h0M424 454h0M481 322h0M738 613h0M687 494h0M556 470h0M430 647h0M311 608h0M614 529h0M386 736h0M369 582h0M644 735h0M545 404h0M408 696h0M396 727h0M404 653h0M520 466h0M556 459h0M439 443h0M367 555h0M505 551h0M607 543h0M403 604h0M539 466h0M399 663h0M574 737h0M376 528h0M272 481h0M264 541h0M301 697h0M645 500h0M717 724h0M728 685h0M544 463h0M569 574h0M249 423h0M287 677h0M501 492h0M511 515h0M719 430h0M453 316h0M404 602h0M613 569h0M491 374h0M579 361h0M516 548h0M500 472h0M359 449h0M314 433h0M628 577h0M299 543h0M499 452h0M337 703h0M692 544h0M645 667h0M356 698h0M659 522h0M427 654h0M725 663h0M432 569h0M392 450h0M668 608h0M372 566h0M573 485h0M636 559h0M573 430h0M708 642h0M319 705h0M334 697h0M621 531h0M754 608h0M735 721h0M602 732h0M426 475h0M508 733h0M598 545h0M356 722h0M567 464h0M702 501h0M678 518h0M570 466h0M390 609h0M310 451h0M295 655h0M352 488h0M326 666h0M392 553h0M483 736h0M674 539h0M393 422h0M502 478h0M304 694h0M707 563h0M441 481h0M396 601h0M333 436h0M679 283h0M595 508h0M412 641h0M251 231h0M477 459h0M597 527h0M357 603h0M623 458h0M450 369h0M786 638h0M554 338h0M416 551h0M504 447h0M797 706h0M661 543h0M624 386h0M344 692h0M593 465h0M566 459h0M645 440h0M678 617h0M590 502h0M496 503h0M630 572h0M257 696h0M311 463h0M693 548h0M525 452h0M509 48h0M521 737h0M188 734h0M450 433h0M449 465h0M771 658h0M315 678h0M437 450h0M686 581h0M420 376h0M512 735h0M731 696h0M525 732h0M702 492h0M769 534h0M894 719h0M707 674h0M778 661h0M688 538h0M519 388h0M556 403h0M417 538h0M610 332h0M496 487h0M593 728h0M490 737h0M297 668h0M666 619h0M664 691h0M792 681h0M562 733h0M319 621h0M638 437h0M522 396h0M493 482h0M365 706h0M566 733h0M627 561h0M322 633h0M427 567h0M209 708h0M590 737h0M743 587h0M372 486h0M728 540h0M394 504h0M681 438h0M370 591h0M837 653h0M714 482h0M397 491h0M542 736h0M692 481h0M428 468h0M414 552h0M743 531h0M275 473h0M764 677h0M494 459h0M361 708h0M292 724h0M630 516h0M725 633h0M372 461h0M586 436h0M591 733h0M539 312h0M597 483h0M369 728h0M357 647h0M791 722h0M467 373h0M387 481h0M844 672h0M693 581h0M326 451h0M647 736h0M726 674h0M350 469h0M514 407h0M281 565h0M477 475h0M472 480h0M664 477h0M617 735h0M751 711h0M316 627h0M397 486h0M726 503h0M446 472h0M705 528h0M565 494h0M310 578h0M625 381h0M467 287h0M692 468h0M419 425h0M856 458h0M429 477h0M412 732h0M273 649h0M626 448h0M413 735h0M616 528h0M358 509h0M747 364h0M792 571h0M474 454h0M348 653h0M633 433h0M364 357h0M568 477h0M322 490h0M633 463h0M540 734h0M709 528h0M610 367h0M727 648h0M416 480h0M316 464h0M595 398h0M313 573h0M556 252h0M585 358h0M323 649h0M222 355h0M755 518h0M295 518h0M414 526h0M468 419h0M644 534h0M414 735h0M757 679h0M302 614h0M340 579h0M336 440h0M463 477h0M403 465h0M812 622h0M311 616h0M749 698h0M668 396h0M849 672h0M322 696h0M754 631h0M593 462h0M699 654h0M333 695h0M654 457h0M286 642h0M646 495h0M373 548h0M270 729h0M316 600h0M584 405h0M280 619h0M378 735h0M770 639h0M292 528h0M447 734h0M568 735h0M423 490h0M380 547h0M314 626h0M779 650h0M634 370h0M528 417h0M654 483h0M826 641h0M338 407h0M808 616h0M732 611h0M323 725h0M730 546h0M400 488h0M692 542h0M689 374h0M150 703h0M469 417h0M514 387h0M595 362h0M499 412h0M335 643h0M713 571h0M595 421h0M228 582h0M578 461h0M695 246h0M523 426h0M759 440h0M452 416h0" fill="none" stroke="#243984" stroke-opacity="0.8" stroke-width="15" stroke-linecap="round"/><path d="M501 559h0M352 732h0M629 618h0M369 571h0M614 713h0M829 682h0M645 645h0M500 567h0M839 695h0M549 611h0M537 462h0M403 594h0M501 661h0M108 567h0M549 716h0M633 621h0M596 712h0M460 563h0M319 608h0M441 700h0M475 407h0M477 720h0M361 644h0M753 642h0M713 710h0M668 700h0M536 654h0M522 572h0M684 581h0M556 598h0M630 719h0M509 596h0M319 652h0M640 665h0M483 716h0M510 570h0M528 629h0M552 637h0M583 722h0M553 652h0M496 591h0M954 731h0M446 606h0M387 599h0M466 287h0M492 685h0M462 712h0M396 526h0M654 659h0M460 690h0M511 583h0M671 616h0M602 723h0M489 512h0M505 661h0M622 629h0M495 702h0M336 602h0M593 542h0M393 622h0M460 724h0M389 580h0M562 652h0M594 560h0M639 657h0M361 601h0M458 641h0M538 705h0M438 588h0M375 654h0M623 680h0M752 733h0M403 485h0M552 727h0M484 579h0M661 733h0M388 678h0M538 540h0M527 658h0M338 487h0M553 564h0M409 656h0M365 625h0M531 687h0M616 720h0M548 735h0M457 605h0M577 569h0M707 514h0M652 689h0M548 505h0M538 461h0M549 678h0M556 629h0M253 712h0M388 595h0M713 628h0M389 448h0M496 715h0M676 719h0M673 733h0M526 688h0M528 609h0M409 609h0M334 518h0M519 630h0M707 685h0M424 635h0M542 726h0M510 483h0M264 537h0M646 563h0M399 621h0M766 636h0M468 482h0M740 633h0M284 573h0M455 724h0M596 710h0M469 624h0M579 609h0M510 678h0M475 604h0M660 527h0M659 649h0M724 611h0M276 621h0M465 570h0M687 675h0M490 735h0M316 344h0M447 543h0M620 570h0M667 643h0M598 464h0M558 722h0M312 656h0M197 354h0M671 375h0M521 544h0M487 674h0M455 543h0M734 585h0M471 680h0M644 515h0M456 466h0M668 575h0M421 568h0M532 580h0M463 666h0M634 736h0M482 690h0M560 520h0M605 437h0M554 483h0M750 602h0M718 665h0M587 446h0M455 558h0M429 371h0M399 492h0M582 632h0M629 699h0M616 499h0M470 656h0M262 601h0M469 663h0M591 388h0M530 633h0M354 729h0M553 483h0M808 645h0M385 621h0M637 455h0M321 478h0M459 658h0M537 682h0M351 688h0M496 704h0M602 618h0M453 594h0M508 585h0M424 629h0M429 453h0M591 555h0M568 578h0M503 627h0M336 628h0M587 679h0M460 652h0M468 608h0M500 652h0M416 730h0M695 567h0M672 575h0M493 407h0M546 673h0M518 673h0M739 572h0M550 657h0M518 705h0M338 714h0M563 624h0M359 476h0M780 609h0M598 589h0M570 642h0M552 443h0M429 642h0M551 704h0M404 444h0M476 670h0M642 500h0M573 626h0M506 716h0M450 708h0M485 587h0M568 624h0M546 484h0M383 703h0M569 668h0M515 659h0M391 681h0M624 696h0M547 613h0M650 517h0M599 548h0M509 693h0M428 721h0M319 569h0M445 382h0M472 576h0M516 478h0M496 707h0M439 384h0M698 697h0M416 444h0M527 720h0M692 719h0M524 589h0M617 637h0M447 629h0M449 675h0M641 497h0M573 314h0M679 661h0M601 705h0M603 640h0M353 290h0M599 590h0M449 548h0M681 627h0M463 682h0M645 725h0M494 704h0M464 511h0M460 524h0M476 685h0M469 615h0M552 604h0M361 683h0M458 647h0M622 682h0M468 735h0M394 650h0M537 678h0M459 631h0M540 511h0M447 663h0M405 695h0M394 710h0M553 542h0M632 509h0M665 704h0M502 637h0M525 715h0M534 494h0M530 516h0M508 505h0M388 724h0M643 653h0M529 665h0M448 505h0M568 732h0M614 691h0M441 584h0M447 692h0M370 444h0M435 510h0M642 662h0M397 672h0M451 572h0M559 451h0M632 617h0M598 600h0M378 650h0M984 609h0M312 714h0M577 603h0M610 669h0M566 635h0M459 610h0M779 611h0M695 399h0M345 425h0M378 679h0M554 695h0M530 515h0M368 425h0M600 634h0M567 561h0M571 643h0M631 712h0M579 614h0M471 701h0M686 680h0M556 619h0M412 463h0M564 651h0M533 733h0M516 682h0M394 638h0M662 682h0M490 540h0M458 566h0M450 547h0M519 536h0M308 735h0M511 650h0M322 723h0M554 650h0M546 492h0M565 441h0M600 686h0M506 596h0M589 476h0M345 638h0M396 643h0M436 534h0M393 572h0M492 384h0M508 596h0M654 417h0M756 682h0M415 675h0M598 687h0M413 503h0M437 585h0M440 718h0M486 680h0M592 631h0M634 344h0M523 567h0M475 541h0M531 723h0M502 674h0M348 629h0M448 499h0M435 500h0M649 587h0M627 510h0M633 596h0M495 426h0M343 540h0M563 480h0M679 516h0M567 427h0M725 721h0M620 528h0M658 725h0M560 722h0M434 694h0M390 403h0M496 737h0M426 664h0M577 707h0M408 623h0M400 646h0M630 612h0M540 672h0M643 309h0M635 697h0M417 611h0M488 525h0M229 531h0M644 538h0M592 648h0M586 411h0M511 610h0M439 734h0M365 532h0M758 717h0M558 651h0M492 626h0M576 639h0M636 543h0M495 655h0M570 724h0M494 539h0M642 679h0M649 715h0M696 365h0M491 560h0M472 703h0M624 593h0M369 656h0M666 680h0M656 635h0M326 504h0M488 468h0M413 625h0M687 555h0M460 725h0M566 583h0M664 683h0M562 592h0M352 683h0M616 711h0M436 730h0M518 580h0M468 688h0M414 722h0M612 670h0M537 548h0M521 554h0M582 620h0M622 549h0M602 667h0M676 665h0M623 388h0M431 602h0M382 572h0M418 642h0M563 671h0M684 669h0M535 731h0M604 507h0M693 712h0M676 606h0M432 713h0M567 576h0M469 600h0M650 627h0M408 652h0M633 649h0M575 368h0M423 544h0M655 627h0M550 485h0M570 646h0M434 734h0M591 611h0M404 501h0M702 622h0M373 674h0M692 500h0M450 617h0M670 701h0M531 449h0M653 492h0M554 684h0M438 451h0M458 427h0M450 538h0M651 542h0M467 630h0M388 634h0M382 694h0M384 591h0M627 665h0M624 575h0M411 736h0M580 696h0M708 585h0M428 678h0M449 552h0M385 660h0M480 689h0M592 680h0M622 605h0M879 581h0M588 673h0M484 697h0M461 577h0M522 552h0M717 502h0M586 530h0M645 450h0M485 565h0M671 595h0M638 729h0M628 669h0M407 551h0M739 656h0M547 621h0M676 729h0M514 564h0M554 426h0M414 600h0M395 664h0M444 623h0M378 629h0M723 655h0M490 599h0M480 310h0M640 698h0M424 696h0M318 524h0M640 715h0M668 516h0M705 632h0M506 555h0M406 503h0M746 713h0M685 672h0M480 581h0M327 467h0M564 735h0M631 502h0M671 681h0M571 574h0M474 555h0M575 437h0M377 726h0M643 644h0M306 570h0M520 546h0M564 536h0M577 526h0M558 625h0M741 505h0M691 505h0M500 736h0M445 580h0M578 488h0M745 668h0M561 552h0M486 736h0M536 476h0M600 481h0M458 401h0M590 573h0M410 400h0M743 532h0M651 580h0M708 686h0M585 551h0M455 491h0M395 517h0M581 735h0M517 601h0M599 519h0M331 726h0M593 601h0M440 421h0M606 549h0M372 647h0M456 520h0M588 729h0M287 730h0M337 509h0M691 660h0M490 604h0M464 468h0M354 692h0M596 511h0M537 556h0M607 487h0M302 669h0M791 492h0M684 496h0M681 720h0M566 518h0M730 543h0M652 612h0M646 453h0M589 573h0M550 470h0M680 714h0M280 622h0M637 516h0M409 640h0M577 550h0M486 468h0M377 540h0M686 657h0M554 572h0M303 686h0M334 514h0M743 549h0M534 503h0M506 458h0M449 729h0M710 642h0M473 569h0M402 357h0M656 562h0M641 521h0M569 562h0M345 622h0M631 598h0M391 579h0M298 724h0M342 719h0M512 316h0M483 411h0M516 618h0M633 586h0M423 480h0M436 646h0M371 494h0M386 446h0M738 479h0M580 499h0M542 413h0M687 628h0M696 455h0M421 608h0M603 361h0M428 500h0M565 580h0M511 450h0M523 521h0M377 585h0M627 511h0M566 360h0M763 722h0M412 546h0M484 411h0M570 732h0M247 620h0M706 636h0M717 666h0M521 317h0M630 410h0M693 686h0M616 461h0M530 443h0M529 732h0M620 661h0M642 702h0M712 579h0M670 462h0M652 595h0M459 475h0M663 695h0M587 299h0M523 550h0M309 698h0M804 725h0M475 373h0M437 555h0M375 645h0M622 410h0M360 685h0M357 658h0M482 497h0M313 580h0M498 365h0M567 466h0M323 708h0M358 526h0M366 545h0M596 497h0M617 496h0M677 541h0M305 723h0M456 429h0M689 562h0M552 346h0M525 503h0M724 582h0M372 718h0M679 477h0M515 476h0M685 600h0M342 619h0M424 570h0M671 555h0M697 637h0M641 635h0M373 506h0M418 526h0M246 606h0M560 433h0M411 521h0M769 680h0M678 586h0M455 507h0M462 376h0M612 409h0M362 622h0M659 735h0M678 606h0M728 591h0M681 698h0M500 479h0M840 658h0M577 456h0M673 586h0M265 714h0M525 420h0M712 633h0M647 482h0M454 472h0M512 733h0M693 694h0M325 678h0M591 367h0M743 577h0M348 399h0M313 600h0M662 389h0M205 669h0M691 602h0M505 532h0M513 482h0M371 378h0M635 414h0M652 446h0M527 391h0M579 467h0M500 398h0M744 551h0M387 574h0M605 550h0M742 709h0M579 311h0M487 318h0M542 486h0M683 555h0M278 555h0M390 541h0M304 699h0M609 585h0M565 416h0M775 596h0M436 482h0M649 461h0M485 733h0M658 454h0M781 616h0M608 515h0M752 387h0M384 348h0M306 713h0M490 375h0M512 512h0M750 439h0M303 520h0M654 523h0M689 556h0M419 517h0M670 400h0M683 474h0M450 399h0M381 367h0M734 547h0M614 731h0M376 504h0M441 489h0M365 720h0M289 453h0M584 464h0M615 471h0M245 468h0M631 499h0M762 735h0M716 711h0M579 444h0M357 634h0M216 391h0M601 422h0M472 456h0M322 724h0M728 698h0M726 636h0M690 579h0M489 479h0M538 426h0M746 628h0M668 452h0M271 534h0M659 430h0M755 537h0M328 508h0M554 446h0M795 585h0M345 535h0M706 528h0M232 729h0M498 462h0M565 433h0M331 732h0M703 443h0M459 352h0M789 532h0M360 731h0M323 512h0M382 499h0M400 426h0M653 736h0M666 528h0M757 726h0M372 453h0M589 439h0M741 733h0M565 428h0M622 363h0M352 589h0M366 695h0M535 386h0M256 678h0M502 507h0M721 512h0M748 707h0M353 610h0M706 656h0M684 557h0M326 590h0M666 412h0M407 560h0M708 558h0M685 562h0M665 531h0M690 624h0M446 487h0M566 405h0M407 505h0M595 418h0M729 663h0M750 536h0M667 473h0M421 467h0M791 655h0M712 591h0M704 627h0M334 603h0M612 456h0M232 661h0M365 735h0M707 551h0M690 643h0M594 455h0M506 395h0M340 633h0M352 642h0M432 735h0M392 561h0M294 586h0M368 556h0M409 558h0M275 625h0M554 420h0M336 624h0M414 502h0M623 407h0M589 434h0M544 341h0M777 304h0M410 735h0M657 505h0M713 674h0M676 528h0M646 531h0M235 733h0M693 639h0M577 420h0M374 428h0M403 735h0M792 648h0M296 605h0M471 373h0M757 524h0M724 519h0M320 610h0M526 407h0M413 511h0M454 480h0M752 720h0M752 700h0M337 663h0M477 443h0M508 232h0M474 182h0M261 675h0M756 581h0M442 398h0M655 399h0M824 699h0M298 647h0M341 592h0M320 508h0M811 704h0M590 428h0M345 517h0M546 407h0M716 721h0M746 733h0M713 599h0M396 316h0M780 565h0M429 493h0M536 390h0M690 382h0M752 572h0M615 331h0M485 735h0M463 356h0M832 658h0M479 436h0M317 726h0M477 487h0M493 403h0M238 734h0M330 610h0M341 478h0M707 476h0M495 346h0M418 452h0M733 729h0M288 357h0M337 461h0M764 543h0M696 490h0M360 606h0M777 660h0M460 475h0M478 413h0M283 578h0M551 420h0" fill="none" stroke="#243984" stroke-opacity="0.8" stroke-width="15" stroke-linecap="round"/><path d="M371 684h0M689 728h0M565 725h0M528 658h0M606 348h0M507 700h0M551 735h0M506 626h0M636 677h0M530 586h0M757 604h0M577 657h0M571 734h0M446 554h0M532 482h0M338 460h0M772 613h0M437 533h0M525 688h0M472 645h0M430 639h0M456 651h0M717 535h0M547 674h0M578 586h0M459 573h0M747 165h0M532 501h0M580 679h0M406 656h0M475 620h0M459 664h0M736 729h0M836 483h0M445 487h0M501 561h0M486 654h0M410 529h0M584 695h0M512 719h0M483 526h0M591 511h0M663 705h0M481 652h0M701 588h0M688 553h0M484 532h0M396 691h0M469 501h0M599 683h0M724 519h0M378 510h0M351 633h0M439 582h0M568 654h0M629 642h0M585 673h0M785 373h0M271 556h0M562 637h0M548 625h0M399 467h0M495 590h0M569 606h0M715 542h0M587 639h0M635 718h0M617 648h0M473 579h0M489 695h0M431 576h0M489 733h0M468 535h0M590 684h0M329 680h0M522 669h0M525 634h0M767 585h0M641 695h0M609 722h0M683 655h0M668 579h0M520 697h0M404 669h0M543 641h0M436 548h0M617 438h0M587 636h0M496 512h0M628 633h0M512 713h0M521 643h0M634 687h0M485 607h0M502 582h0M486 419h0M632 725h0M424 582h0M367 669h0M554 682h0M434 605h0M546 587h0M647 486h0M565 473h0M515 363h0M629 519h0M530 689h0M403 697h0M551 664h0M632 667h0M522 560h0M498 690h0M388 698h0M498 707h0M488 630h0M482 729h0M673 425h0M593 580h0M530 649h0M468 490h0M501 579h0M428 723h0M297 457h0M409 540h0M675 512h0M464 692h0M381 652h0M755 699h0M454 446h0M399 696h0M535 573h0M509 594h0M453 645h0M562 531h0M382 588h0M578 317h0M785 593h0M503 580h0M371 633h0M455 475h0M582 510h0M631 569h0M529 562h0M349 589h0M606 450h0M562 304h0M650 625h0M542 623h0M656 716h0M618 590h0M451 708h0M671 547h0M418 508h0M325 629h0M675 723h0M605 663h0M637 645h0M486 715h0M427 592h0M576 603h0M533 615h0M357 641h0M615 604h0M469 713h0M590 725h0M503 471h0M485 702h0M417 550h0M643 703h0M439 569h0M474 414h0M511 729h0M379 698h0M499 632h0M476 592h0M489 637h0M544 636h0M555 657h0M629 499h0M443 473h0M441 685h0M608 635h0M594 726h0M497 540h0M683 607h0M499 555h0M672 566h0M382 507h0M896 415h0M502 657h0M506 599h0M522 655h0M610 527h0M545 530h0M613 710h0M887 667h0M425 713h0M487 535h0M493 440h0M689 642h0M456 607h0M702 700h0M625 723h0M425 729h0M424 613h0M550 608h0M530 467h0M624 682h0M481 445h0M550 547h0M626 587h0M476 528h0M700 632h0M537 689h0M629 715h0M628 736h0M724 575h0M303 521h0M800 592h0M348 546h0M475 532h0M677 727h0M474 713h0M499 706h0M517 690h0M478 536h0M372 680h0M376 310h0M549 722h0M636 735h0M570 478h0M556 517h0M477 642h0M462 616h0M252 600h0M520 703h0M502 652h0M347 715h0M583 677h0M625 728h0M363 608h0M512 440h0M369 723h0M693 718h0M554 662h0M548 684h0M545 491h0M612 687h0M530 715h0M702 681h0M440 627h0M743 685h0M497 313h0M596 369h0M536 734h0M372 619h0M642 732h0M416 662h0M379 531h0M553 711h0M696 724h0M408 725h0M379 712h0M539 720h0M447 551h0M553 643h0M667 668h0M392 714h0M597 706h0M645 554h0M525 612h0M599 628h0M690 720h0M397 626h0M340 495h0M633 714h0M358 618h0M451 732h0M348 597h0M587 481h0M494 653h0M483 590h0M712 522h0M457 615h0M518 457h0M404 587h0M369 690h0M539 598h0M453 678h0M562 634h0M478 649h0M521 669h0M582 656h0M599 625h0M520 647h0M719 509h0M533 431h0M587 585h0M457 540h0M517 621h0M645 283h0M469 633h0M524 548h0M530 661h0M540 705h0M288 667h0M649 647h0M466 579h0M654 729h0M437 663h0M601 506h0M452 550h0M642 675h0M545 594h0M583 734h0M471 542h0M668 653h0M716 671h0M591 581h0M367 730h0M532 460h0M294 609h0M470 656h0M655 548h0M576 626h0M802 543h0M465 735h0M629 547h0M270 677h0M609 727h0M391 689h0M586 572h0M393 453h0M397 637h0M305 729h0M600 728h0M554 507h0M705 720h0M349 592h0M632 733h0M374 595h0M449 704h0M611 356h0M597 657h0M583 589h0M493 628h0M526 695h0M585 606h0M702 524h0M667 516h0M270 694h0M348 665h0M439 699h0M606 730h0M425 561h0M608 699h0M612 609h0M475 533h0M709 726h0M462 585h0M362 633h0M414 616h0M605 598h0M747 698h0M669 632h0M417 569h0M464 642h0M575 563h0M557 516h0M562 714h0M384 506h0M464 543h0M654 708h0M383 702h0M487 626h0M590 563h0M606 436h0M609 422h0M572 526h0M454 718h0M732 681h0M767 661h0M801 518h0M633 673h0M494 603h0M560 595h0M415 728h0M417 675h0M323 588h0M576 429h0M804 733h0M763 645h0M343 591h0M426 540h0M458 519h0M352 720h0M546 660h0M537 444h0M428 590h0M714 536h0M670 591h0M477 724h0M402 719h0M474 521h0M615 618h0M657 604h0M618 570h0M472 556h0M542 728h0M592 692h0M768 679h0M475 589h0M413 378h0M803 638h0M418 422h0M371 556h0M436 664h0M405 548h0M576 535h0M443 610h0M493 525h0M428 710h0M546 608h0M749 734h0M526 481h0M592 543h0M392 670h0M494 523h0M462 556h0M781 686h0M592 485h0M720 695h0M536 535h0M599 540h0M452 700h0M601 592h0M485 590h0M383 709h0M649 716h0M450 466h0M639 703h0M505 544h0M643 555h0M502 491h0M533 575h0M615 575h0M494 499h0M650 719h0M384 340h0M484 670h0M491 488h0M432 527h0M317 634h0M439 731h0M585 568h0M575 468h0M278 421h0M437 620h0M675 429h0M550 393h0M553 439h0M778 663h0M649 627h0M711 719h0M454 556h0M715 580h0M252 658h0M472 689h0M430 464h0M447 531h0M395 736h0M351 698h0M485 550h0M639 669h0M513 390h0M532 508h0M389 513h0M351 539h0M408 617h0M385 643h0M619 534h0M488 508h0M569 591h0M739 733h0M533 614h0M649 734h0M583 384h0M733 612h0M626 630h0M317 417h0M447 603h0M474 368h0M686 675h0M426 588h0M695 730h0M447 597h0M833 687h0M602 420h0M382 395h0M184 661h0M451 575h0M427 639h0M709 558h0M633 717h0M491 610h0M647 553h0M351 567h0M578 551h0M351 626h0M415 506h0M352 659h0M343 606h0M620 705h0M368 568h0M291 559h0M360 665h0M635 683h0M509 436h0M456 595h0M533 603h0M716 573h0M554 473h0M522 438h0M688 517h0M544 517h0M612 731h0M371 617h0M362 615h0M588 555h0M610 464h0M609 416h0M333 699h0M687 719h0M440 598h0M538 326h0M429 554h0M515 277h0M655 572h0M537 405h0M453 635h0M649 734h0M435 732h0M600 562h0M551 737h0M767 696h0M772 533h0M618 531h0M405 666h0M460 503h0M539 458h0M464 702h0M357 677h0M431 621h0M466 704h0M640 699h0M401 734h0M584 501h0M475 496h0M719 715h0M471 527h0M437 528h0M672 504h0M377 627h0M612 432h0M596 314h0M539 449h0M557 562h0M583 451h0M642 539h0M508 486h0M557 462h0M663 501h0M694 530h0M579 489h0M572 563h0M323 548h0M590 544h0M629 595h0M431 549h0M334 695h0M591 725h0M697 668h0M330 557h0M350 698h0M304 664h0M626 512h0M398 523h0M326 726h0M636 492h0M341 483h0M570 494h0M480 563h0M472 577h0M552 487h0M439 389h0M680 592h0M525 443h0M582 557h0M436 640h0M665 472h0M646 588h0M528 324h0M616 562h0M580 521h0M463 451h0M730 588h0M275 624h0M266 662h0M469 562h0M729 633h0M463 510h0M637 422h0M627 452h0M680 541h0M401 569h0M708 600h0M506 373h0M523 402h0M734 664h0M362 610h0M514 555h0M508 333h0M608 532h0M666 453h0M594 540h0M545 518h0M339 707h0M188 540h0M415 689h0M571 558h0M768 651h0M634 564h0M315 491h0M749 548h0M292 513h0M580 413h0M386 559h0M572 735h0M655 505h0M607 520h0M364 671h0M508 534h0M517 473h0M657 567h0M412 712h0M680 562h0M642 736h0M397 524h0M282 617h0M334 627h0M688 665h0M410 604h0M323 562h0M557 564h0M649 418h0M523 441h0M761 640h0M488 551h0M664 519h0M523 516h0M560 400h0M501 434h0M594 534h0M592 512h0M640 574h0M436 346h0M563 433h0M364 561h0M441 496h0M313 713h0M387 476h0M595 425h0M715 641h0M541 426h0M440 458h0M257 708h0M683 480h0M470 736h0M673 687h0M638 529h0M723 733h0M445 439h0M655 384h0M618 573h0M456 404h0M630 735h0M576 399h0M514 350h0M434 518h0M341 682h0M692 626h0M709 725h0M376 535h0M310 555h0M402 471h0M732 721h0M784 653h0M545 355h0M546 477h0M626 371h0M774 649h0M486 411h0M779 480h0M683 541h0M741 731h0M348 583h0M364 662h0M647 487h0M659 732h0M511 512h0M537 512h0M683 722h0M486 493h0M455 498h0M382 572h0M651 554h0M605 578h0M685 618h0M263 707h0M658 613h0M840 646h0M641 519h0M425 516h0M374 619h0M434 486h0M351 551h0M724 471h0M382 272h0M422 445h0M668 695h0M678 495h0M748 639h0M568 459h0M537 492h0M600 442h0M673 448h0M530 328h0M314 592h0M562 399h0M356 711h0M337 412h0M534 374h0M735 652h0M662 687h0M528 475h0M591 333h0M382 106h0M352 416h0M392 610h0M530 426h0M567 500h0M735 690h0M324 640h0M552 498h0M530 400h0M677 531h0M183 680h0M277 732h0M595 729h0M371 483h0M443 489h0M545 471h0M495 737h0M644 354h0M375 546h0M439 394h0M614 497h0M367 659h0M823 671h0M535 390h0M275 638h0M574 735h0M203 444h0M452 449h0M325 440h0M546 389h0M693 444h0M697 600h0M749 572h0M495 396h0M302 702h0M749 652h0M393 459h0M401 496h0M396 595h0M745 597h0M709 448h0M304 526h0M626 401h0M452 407h0M329 481h0M627 447h0M234 585h0M415 501h0M576 499h0M749 635h0M657 380h0M594 460h0M359 464h0M620 418h0M334 593h0M501 462h0M530 736h0M516 450h0M361 508h0M444 400h0M570 384h0M427 523h0M292 706h0M484 367h0M607 445h0M699 623h0M474 425h0M622 481h0M651 451h0M509 319h0M297 645h0M748 463h0M622 381h0M329 478h0M399 448h0M749 619h0M522 452h0M315 689h0M733 681h0M588 485h0M482 472h0M397 523h0M532 401h0M566 436h0M694 735h0M658 438h0M371 587h0M415 538h0M560 432h0M275 487h0M706 554h0M281 585h0M356 647h0M355 521h0M613 413h0M335 681h0M277 604h0M250 731h0M566 311h0M703 513h0M671 415h0M334 600h0M765 685h0M342 473h0M571 393h0M307 673h0M379 464h0M572 372h0M453 458h0M455 438h0M717 452h0M541 361h0M432 428h0M482 364h0M698 641h0M640 333h0M636 428h0M558 452h0M732 633h0M513 431h0M739 458h0M409 511h0M647 358h0M482 486h0M560 735h0M530 321h0M749 562h0M462 439h0M660 494h0M383 438h0M535 494h0M603 734h0M790 627h0M700 660h0M534 195h0M708 489h0M375 514h0M222 607h0M698 418h0M331 479h0M862 364h0M446 389h0M521 371h0M409 492h0M419 464h0M566 443h0M318 529h0M698 453h0M782 711h0M231 713h0M370 584h0M804 674h0M691 454h0M437 356h0M697 657h0M321 593h0M284 620h0M724 695h0M812 491h0M780 542h0M643 530h0M733 689h0M399 525h0M699 563h0M294 532h0M701 531h0M375 607h0M753 484h0M446 436h0M833 627h0M779 653h0M765 702h0M372 507h0M763 681h0M763 657h0M385 357h0M414 465h0M735 627h0M296 621h0M669 735h0M639 496h0M797 449h0M403 735h0M509 277h0M633 474h0" fill="none" stroke="#243984" stroke-opacity="0.8" stroke-width="15" stroke-linecap="round"/><path d="M565 522h0M703 628h0M383 444h0M551 450h0M631 627h0M575 668h0M428 707h0M407 709h0M549 327h0M372 667h0M471 662h0M356 375h0M564 677h0M704 663h0M570 521h0M526 516h0M682 530h0M515 574h0M468 545h0M500 703h0M414 680h0M658 595h0M411 463h0M701 720h0M307 489h0M476 607h0M686 592h0M380 667h0M570 708h0M737 597h0M419 630h0M442 614h0M627 688h0M441 540h0M567 689h0M432 529h0M646 567h0M561 734h0M425 615h0M537 720h0M498 733h0M519 719h0M538 478h0M603 684h0M505 427h0M475 599h0M585 406h0M509 561h0M661 497h0M558 522h0M379 629h0M445 458h0M556 386h0M429 617h0M552 611h0M489 652h0M592 574h0M360 660h0M589 476h0M516 640h0M601 657h0M549 703h0M535 617h0M653 660h0M626 618h0M489 599h0M400 694h0M745 720h0M537 669h0M440 652h0M729 671h0M423 583h0M359 580h0M648 690h0M567 710h0M523 629h0M557 699h0M482 605h0M573 520h0M509 673h0M358 715h0M612 679h0M554 396h0M629 730h0M507 730h0M631 573h0M619 544h0M388 718h0M540 524h0M308 695h0M568 406h0M571 552h0M407 736h0M478 576h0M550 562h0M672 650h0M490 717h0M499 732h0M427 710h0M523 674h0M479 635h0M402 681h0M526 716h0M672 580h0M682 715h0M355 566h0M386 635h0M348 576h0M452 588h0M613 636h0M514 655h0M528 633h0M463 602h0M416 359h0M505 697h0M372 649h0M530 667h0M406 595h0M453 393h0M578 710h0M632 685h0M570 598h0M328 635h0M415 614h0M507 649h0M643 604h0M412 632h0M651 698h0M712 675h0M515 689h0M391 496h0M591 447h0M562 513h0M383 569h0M663 573h0M559 583h0M623 226h0M638 666h0M380 728h0M456 635h0M561 493h0M410 728h0M547 594h0M608 695h0M622 557h0M684 656h0M413 722h0M537 598h0M598 699h0M432 689h0M435 475h0M823 506h0M674 548h0M716 731h0M387 427h0M598 429h0M504 735h0M655 632h0M486 642h0M487 532h0M341 658h0M447 699h0M513 569h0M476 723h0M517 712h0M559 731h0M531 556h0M501 619h0M422 584h0M659 624h0M628 410h0M488 647h0M689 648h0M377 604h0M470 730h0M664 636h0M417 593h0M363 570h0M346 680h0M481 531h0M457 647h0M530 699h0M309 496h0M503 734h0M590 605h0M404 675h0M741 476h0M349 507h0M336 571h0M574 697h0M546 579h0M637 531h0M624 665h0M434 710h0M610 727h0M662 686h0M560 666h0M706 698h0M357 731h0M605 459h0M395 727h0M582 691h0M298 587h0M617 688h0M472 440h0M280 624h0M583 580h0M399 542h0M462 682h0M416 583h0M311 711h0M501 671h0M479 655h0M508 657h0M752 663h0M594 476h0M507 445h0M622 720h0M671 685h0M768 694h0M339 491h0M437 439h0M556 591h0M535 693h0M391 565h0M604 648h0M445 519h0M604 643h0M665 726h0M456 612h0M448 671h0M531 550h0M591 519h0M441 540h0M337 460h0M708 695h0M727 712h0M471 649h0M606 670h0M593 696h0M657 587h0M611 505h0M621 409h0M551 530h0M387 720h0M546 454h0M442 720h0M644 661h0M500 530h0M780 543h0M514 615h0M475 428h0M619 599h0M422 662h0M615 645h0M359 269h0M642 562h0M550 514h0M456 618h0M650 707h0M548 689h0M371 376h0M526 628h0M708 582h0M533 661h0M659 554h0M363 599h0M659 639h0M467 611h0M460 609h0M334 545h0M493 736h0M513 730h0M445 681h0M735 736h0M651 688h0M652 509h0M573 587h0M436 615h0M792 552h0M511 559h0M350 729h0M770 649h0M440 735h0M450 622h0M547 504h0M680 674h0M639 289h0M528 610h0M490 695h0M482 602h0M728 597h0M433 549h0M501 576h0M551 677h0M462 670h0M809 674h0M706 662h0M259 518h0M519 588h0M612 628h0M383 734h0M367 582h0M572 721h0M546 472h0M410 495h0M578 663h0M489 643h0M710 701h0M632 657h0M588 597h0M467 601h0M553 586h0M551 453h0M447 546h0M532 467h0M585 591h0M583 648h0M624 654h0M590 611h0M556 562h0M542 556h0M384 499h0M556 563h0M397 601h0M732 455h0M588 490h0M480 556h0M674 718h0M609 527h0M480 660h0M516 635h0M436 725h0M576 627h0M498 608h0M495 401h0M646 591h0M379 708h0M424 489h0M612 586h0M627 673h0M497 448h0M596 433h0M506 733h0M377 710h0M616 564h0M611 456h0M281 702h0M362 599h0M508 538h0M626 612h0M527 703h0M635 680h0M613 532h0M277 734h0M540 600h0M544 728h0M410 642h0M682 675h0M630 642h0M635 396h0M510 435h0M485 665h0M641 593h0M645 665h0M611 541h0M453 711h0M417 625h0M534 531h0M671 736h0M577 569h0M660 670h0M431 710h0M841 428h0M556 568h0M751 474h0M687 735h0M467 542h0M354 654h0M650 660h0M275 666h0M478 458h0M570 476h0M380 662h0M467 656h0M611 513h0M421 549h0M376 714h0M552 556h0M720 465h0M653 557h0M732 717h0M640 539h0M660 687h0M565 546h0M658 697h0M740 659h0M269 680h0M338 547h0M331 416h0M530 529h0M421 725h0M743 636h0M526 538h0M284 586h0M660 565h0M579 681h0M576 682h0M747 670h0M473 360h0M410 563h0M666 594h0M427 675h0M680 680h0M696 719h0M420 364h0M475 729h0M686 725h0M434 699h0M565 532h0M365 715h0M689 670h0M646 727h0M724 635h0M615 641h0M442 497h0M633 426h0M633 529h0M403 665h0M659 671h0M514 530h0M553 387h0M433 672h0M641 553h0M582 661h0M401 654h0M528 564h0M371 572h0M627 671h0M485 731h0M534 730h0M390 599h0M459 732h0M532 571h0M401 731h0M434 514h0M312 684h0M506 429h0M538 636h0M434 591h0M668 496h0M637 649h0M448 720h0M536 500h0M688 587h0M507 355h0M286 618h0M392 548h0M708 709h0M556 538h0M645 540h0M807 658h0M414 590h0M461 629h0M643 654h0M586 539h0M665 576h0M545 588h0M364 562h0M638 425h0M333 591h0M514 360h0M362 598h0M549 566h0M341 733h0M511 397h0M478 684h0M629 409h0M464 702h0M627 594h0M414 604h0M417 730h0M668 670h0M369 721h0M600 544h0M653 420h0M509 550h0M602 616h0M440 692h0M744 647h0M600 572h0M679 698h0M418 422h0M583 735h0M638 611h0M393 663h0M638 635h0M495 417h0M428 636h0M311 607h0M422 660h0M708 697h0M444 639h0M767 724h0M557 499h0M586 623h0M547 562h0M401 716h0M737 690h0M410 638h0M596 565h0M374 534h0M412 457h0M505 613h0M352 600h0M648 605h0M327 611h0M691 555h0M642 607h0M376 642h0M569 732h0M748 656h0M495 611h0M533 493h0M576 514h0M599 674h0M588 665h0M397 457h0M421 468h0M351 613h0M725 446h0M474 384h0M300 685h0M613 581h0M768 591h0M609 541h0M629 737h0M323 712h0M572 536h0M373 735h0M682 488h0M615 511h0M595 483h0M311 430h0M382 716h0M497 576h0M641 711h0M257 597h0M536 512h0M528 537h0M558 456h0M904 689h0M730 715h0M658 691h0M577 574h0M555 548h0M634 556h0M579 541h0M524 466h0M638 472h0M751 304h0M428 461h0M413 583h0M736 651h0M460 448h0M340 661h0M451 509h0M790 634h0M446 244h0M530 455h0M610 639h0M374 707h0M481 551h0M699 686h0M759 651h0M403 485h0M598 609h0M705 425h0M690 509h0M383 546h0M295 653h0M444 731h0M440 551h0M683 433h0M595 728h0M684 600h0M622 555h0M665 529h0M625 433h0M601 580h0M538 409h0M761 658h0M378 385h0M208 701h0M672 522h0M359 679h0M773 737h0M707 664h0M607 566h0M423 496h0M411 364h0M746 688h0M424 655h0M669 472h0M617 392h0M406 334h0M535 440h0M503 529h0M623 667h0M331 708h0M614 552h0M470 463h0M347 682h0M758 377h0M530 532h0M458 466h0M294 680h0M602 499h0M694 629h0M326 558h0M322 566h0M518 604h0M532 462h0M675 705h0M494 459h0M679 495h0M453 528h0M420 533h0M649 617h0M683 665h0M380 367h0M586 456h0M538 433h0M578 517h0M527 610h0M729 708h0M466 473h0M600 434h0M413 643h0M413 545h0M451 566h0M329 530h0M693 446h0M655 605h0M460 503h0M715 551h0M679 563h0M338 712h0M411 515h0M460 582h0M498 445h0M673 574h0M680 519h0M256 538h0M392 465h0M738 737h0M801 692h0M659 494h0M435 593h0M504 476h0M715 622h0M282 621h0M654 556h0M515 449h0M400 381h0M498 522h0M559 491h0M496 334h0M420 534h0M411 363h0M670 497h0M804 634h0M333 540h0M769 668h0M351 422h0M427 522h0M717 651h0M615 471h0M707 545h0M682 555h0M421 653h0M702 522h0M357 602h0M620 450h0M526 363h0M643 671h0M506 388h0M764 665h0M604 557h0M529 304h0M509 460h0M701 654h0M685 627h0M599 733h0M421 737h0M564 518h0M664 526h0M357 634h0M312 575h0M692 688h0M231 638h0M753 711h0M367 637h0M684 606h0M500 734h0M371 590h0M716 347h0M412 591h0M360 513h0M368 710h0M363 698h0M730 645h0M386 549h0M354 584h0M765 638h0M558 735h0M498 488h0M699 579h0M514 501h0M456 498h0M269 590h0M782 611h0M795 574h0M640 437h0M375 611h0M578 383h0M715 468h0M519 318h0M633 394h0M554 484h0M435 434h0M716 467h0M391 597h0M724 712h0M334 633h0M929 671h0M519 501h0M436 475h0M352 687h0M498 489h0M449 735h0M710 546h0M677 466h0M332 596h0M362 250h0M445 261h0M677 520h0M494 456h0M713 605h0M200 719h0M418 534h0M800 553h0M324 693h0M738 621h0M506 400h0M493 428h0M519 479h0M366 600h0M586 429h0M287 503h0M804 681h0M317 657h0M368 716h0M666 515h0M350 620h0M403 505h0M336 731h0M439 525h0M536 733h0M510 388h0M539 339h0M669 535h0M477 730h0M430 454h0M733 650h0M705 677h0M665 692h0M381 733h0M764 697h0M651 471h0M351 696h0M680 554h0M647 573h0M409 557h0M511 310h0M354 732h0M458 489h0M623 512h0M702 498h0M609 482h0M575 425h0M696 599h0M585 461h0M591 374h0M354 709h0M374 610h0M690 734h0M433 425h0M496 412h0M706 652h0M288 570h0M311 728h0M440 445h0M507 416h0M339 579h0M565 504h0M629 475h0M755 612h0M712 676h0M427 238h0M353 569h0M719 613h0M620 508h0M635 448h0M726 603h0M346 538h0M903 570h0M730 506h0M740 604h0M567 359h0M489 503h0M284 682h0M759 646h0M570 380h0M465 288h0M367 433h0M751 705h0M529 432h0M761 701h0M684 572h0M545 735h0M326 710h0M756 646h0M741 687h0M723 553h0M397 529h0M421 519h0M750 545h0M271 705h0M370 615h0M442 429h0M675 574h0M639 468h0M767 710h0M501 354h0M730 608h0M573 454h0M336 675h0M288 631h0M432 324h0M493 407h0M539 498h0M738 520h0M335 684h0M422 734h0M461 734h0M583 432h0M360 610h0M447 523h0M480 457h0M638 472h0M734 649h0M690 646h0M284 488h0M577 480h0M610 453h0M321 452h0M425 505h0M602 393h0M787 671h0M620 514h0M385 559h0M685 470h0M387 186h0M323 564h0M684 432h0M618 455h0M513 448h0M616 421h0M776 680h0M289 675h0M565 270h0M688 538h0M753 531h0M452 520h0M501 361h0M682 570h0M649 440h0M734 508h0M369 736h0M585 482h0M353 524h0M708 544h0M575 484h0M843 590h0M312 622h0M386 733h0M569 456h0M337 689h0M684 500h0M601 305h0M721 545h0M371 552h0M397 334h0M683 431h0M833 736h0M330 502h0M550 430h0M359 568h0M281 662h0M337 611h0M698 501h0M579 421h0M321 708h0M534 385h0M765 526h0M624 419h0M425 486h0M612 734h0M764 579h0M846 730h0M285 733h0M444 405h0M851 343h0M421 485h0M726 500h0M272 437h0M691 536h0M777 729h0M732 526h0M648 378h0" fill="none" stroke="#243984" stroke-opacity="0.8" stroke-width="15" stroke-linecap="round"/><path d="M509 647h0M598 687h0M670 656h0M519 411h0M495 685h0M669 550h0M593 664h0M456 608h0M517 403h0M471 629h0M487 711h0M546 660h0M561 615h0M689 665h0M680 530h0M549 531h0M696 566h0M536 482h0M485 495h0M367 686h0M547 575h0M682 601h0M570 708h0M608 577h0M688 599h0M412 687h0M495 404h0M367 517h0M708 717h0M658 673h0M571 513h0M384 681h0M510 558h0M382 588h0M509 607h0M412 593h0M404 676h0M551 620h0M387 588h0M594 637h0M490 683h0M476 717h0M586 611h0M693 678h0M568 687h0M590 596h0M465 589h0M724 667h0M856 636h0M555 272h0" fill="none" stroke="#EC7545" stroke-opacity="0.85" stroke-width="15" stroke-linecap="round"/><path d="M517 691h0M462 641h0M655 673h0M645 435h0M611 670h0M702 693h0M526 434h0M451 600h0M590 493h0M636 498h0M789 688h0M508 620h0M548 699h0M584 600h0M541 635h0M655 662h0M520 700h0M571 717h0M598 626h0M522 431h0M378 684h0M528 637h0M519 492h0M597 535h0M483 567h0M620 507h0M666 723h0M481 582h0M768 618h0M653 659h0M613 421h0M643 447h0M674 642h0M297 727h0M592 654h0M503 721h0M445 651h0M640 401h0M641 452h0M692 438h0M577 673h0M507 596h0M649 296h0M470 664h0M538 545h0M538 725h0M318 598h0M538 644h0M720 328h0M638 333h0" fill="none" stroke="#EC7545" stroke-opacity="0.85" stroke-width="15" stroke-linecap="round"/></svg><div style="position:absolute;top:2745.7px;font-size:24.72px;line-height:24.72px;color:#2D3A4D;white-space:nowrap;right:1397.0px;">0</div><div style="position:absolute;top:2660.5px;font-size:24.72px;line-height:24.72px;color:#2D3A4D;white-space:nowrap;right:1397.0px;">0.5</div><div style="position:absolute;top:2575.4px;font-size:24.72px;line-height:24.72px;color:#2D3A4D;white-space:nowrap;right:1397.0px;">1</div><div style="position:absolute;top:2490.2px;font-size:24.72px;line-height:24.72px;color:#2D3A4D;white-space:nowrap;right:1397.0px;">1.5</div><div style="position:absolute;top:2405.1px;font-size:24.72px;line-height:24.72px;color:#2D3A4D;white-space:nowrap;right:1397.0px;">2</div><div style="position:absolute;top:2319.9px;font-size:24.72px;line-height:24.72px;color:#2D3A4D;white-space:nowrap;right:1397.0px;">2.5</div><div style="position:absolute;top:2234.8px;font-size:24.72px;line-height:24.72px;color:#2D3A4D;white-space:nowrap;right:1397.0px;">3</div><div style="position:absolute;top:2149.6px;font-size:24.72px;line-height:24.72px;color:#2D3A4D;white-space:nowrap;right:1397.0px;">3.5</div><div style="position:absolute;top:2064.5px;font-size:24.72px;line-height:24.72px;color:#2D3A4D;white-space:nowrap;right:1397.0px;">4</div><div style="position:absolute;top:2812.1px;font-size:24.72px;line-height:24.72px;color:#2D3A4D;white-space:nowrap;left:779.8px;width:3000px;text-align:center;">−4</div><div style="position:absolute;top:2812.1px;font-size:24.72px;line-height:24.72px;color:#2D3A4D;white-space:nowrap;left:1018.0px;width:3000px;text-align:center;">−2</div><div style="position:absolute;top:2812.1px;font-size:24.72px;line-height:24.72px;color:#2D3A4D;white-space:nowrap;left:1256.2px;width:3000px;text-align:center;">0</div><div style="position:absolute;top:2812.1px;font-size:24.72px;line-height:24.72px;color:#2D3A4D;white-space:nowrap;left:1494.4px;width:3000px;text-align:center;">2</div><div style="position:absolute;top:2812.1px;font-size:24.72px;line-height:24.72px;color:#2D3A4D;white-space:nowrap;left:1732.6px;width:3000px;text-align:center;">4</div><div style="position:absolute;top:2859.2px;font-size:28.84px;line-height:28.84px;color:#2D3A4D;white-space:nowrap;letter-spacing:0.760px;left:1275.5px;width:3000px;text-align:center;text-indent:0.76px;">Length</div><div style="position:absolute;left:1986.6px;top:2394.5px;width:300px;height:40px;line-height:40px;text-align:center;transform:rotate(-90deg);font-size:28.840px;color:#2D3A4D;white-space:nowrap">Weight</div><div style="position:absolute;top:2033.2px;font-size:28.84px;line-height:28.84px;color:#2D3A4D;white-space:nowrap;letter-spacing:0.474px;left:2774.8px;">Defect Status</div><div style="position:absolute;left:3003.7px;top:2042.2px;width:15.0px;height:15.0px;box-sizing:border-box;border-radius:50%;background:#4F5F9C;"></div><div style="position:absolute;top:2038.4px;font-size:24.72px;line-height:24.72px;color:#2D3A4D;white-space:nowrap;letter-spacing:0.387px;left:3051.8px;">No Defect</div><div style="position:absolute;left:3208.9px;top:2042.2px;width:15.0px;height:15.0px;box-sizing:border-box;border-radius:50%;background:#EF8F69;"></div><div style="position:absolute;top:2038.4px;font-size:24.72px;line-height:24.72px;color:#2D3A4D;white-space:nowrap;letter-spacing:0.512px;left:3257.0px;">Defect</div><div style="position:absolute;left:128.0px;top:92.0px;width:24.0px;height:24.0px;box-sizing:border-box;border-radius:50%;background:#EC6A5E;border:1px solid #D5584D;"></div><div style="position:absolute;left:168.0px;top:92.0px;width:24.0px;height:24.0px;box-sizing:border-box;border-radius:50%;background:#F4BF4F;border:1px solid #D9A33C;"></div><div style="position:absolute;left:208.0px;top:92.0px;width:24.0px;height:24.0px;box-sizing:border-box;border-radius:50%;background:#61C554;border:1px solid #4EA73F;"></div><div style="position:absolute;top:89.3px;font-size:26.78px;line-height:26.78px;color:#4A4A4A;white-space:nowrap;font-weight:700;letter-spacing:0.005px;left:301.0px;width:3000px;text-align:center;text-indent:0.01px;">Plotly Studio</div><div style="position:absolute;left:112.0px;top:226.0px;width:3378.0px;height:2.0px;box-sizing:border-box;background:#ECEBF1;"></div><div style="position:absolute;left:152.0px;top:168.0px;width:32.0px;height:4.0px;box-sizing:border-box;background:#575757;border-radius:2px;"></div><div style="position:absolute;left:152.0px;top:178.0px;width:32.0px;height:4.0px;box-sizing:border-box;background:#575757;border-radius:2px;"></div><div style="position:absolute;left:152.0px;top:188.0px;width:32.0px;height:4.0px;box-sizing:border-box;background:#575757;border-radius:2px;"></div><div style="position:absolute;top:165.7px;font-size:28.12px;line-height:28.12px;color:#5A4BB6;white-space:nowrap;letter-spacing:0.590px;left:224.5px;">Projects</div><svg style="position:absolute;left:360px;top:166px" width="22" height="28" viewBox="0 0 22 28" fill="none" stroke="#868686" stroke-width="2.3"><path d="M6 5.500l9.500 8.700L6 23"/></svg><div style="position:absolute;top:165.7px;font-size:28.12px;line-height:28.12px;color:#575757;white-space:nowrap;letter-spacing:0.988px;left:408.4px;">Manufacturing Quality Control Data App</div><svg style="position:absolute;left:2767px;top:164px" width="34" height="30" viewBox="0 0 34 30" fill="none" stroke="#B93838" stroke-width="2.700" stroke-linejoin="round" stroke-linecap="round"><path d="M16.700 3.400 3.400 26.600h26.600z"/><path d="M16.700 11.800v6.600"/><circle cx="16.700" cy="22.600" r="1.700" fill="#B93838" stroke="none"/></svg><div style="position:absolute;top:165.7px;font-size:26.06px;line-height:26.06px;color:#B93838;white-space:nowrap;letter-spacing:0.014px;-webkit-text-stroke:0.4px #B93838;left:2808.6px;">Update failed. Try restarting the app.</div><div style="position:absolute;left:3264.0px;top:147.0px;width:194.0px;height:64.0px;box-sizing:border-box;border:2px solid #ADA1EA;border-radius:7px;background:#F6F4FD;"></div><svg style="position:absolute;left:3289px;top:162px" width="30" height="34" viewBox="0 0 30 34" fill="none" stroke="#5A4BB6" stroke-width="2.500" stroke-linejoin="round" stroke-linecap="round"><path d="M14.800 3C10 7 8.200 12 8.200 18l.6 7.600h12L21.400 18c0-6-1.800-11-6.600-15z"/><path d="M8.300 17.600 3.300 22l1.400 7 4.200-3.400M21.300 17.600l5 4.400-1.400 7-4.200-3.400M12.200 30.400h5.200"/><circle cx="14.800" cy="14.500" r="1.900" fill="#5A4BB6" stroke="none"/></svg><div style="position:absolute;top:164.2px;font-size:28.84px;line-height:28.84px;color:#5A4BB6;white-space:nowrap;letter-spacing:0.319px;-webkit-text-stroke:0.5px #5A4BB6;left:3336.8px;">Publish</div><div style="position:absolute;left:152.0px;top:260.0px;width:408.0px;height:66.0px;box-sizing:border-box;background:#ECE9FA;border-radius:9px;"></div><svg style="position:absolute;left:178px;top:281px" width="23" height="23" viewBox="0 0 24 24" fill="#5A4BB6"><path d="M12 1.800 1.800 11v11.200h7.400v-7.400h5.600v7.400h7.400V11z"/></svg><div style="position:absolute;top:281.2px;font-size:27.72px;line-height:27.72px;color:#5A4BB6;white-space:nowrap;font-weight:700;letter-spacing:0.058px;left:219.3px;">App Summary</div><div style="position:absolute;top:378.6px;font-size:23.28px;line-height:23.28px;color:#575757;white-space:nowrap;letter-spacing:-0.303px;-webkit-text-stroke:0.3px #575757;left:169.0px;">SETUP</div><svg style="position:absolute;left:176.0px;top:432.0px;color:#575757" width="32" height="32" viewBox="0 0 24 24" fill="none" stroke="#575757" stroke-width="1.65" stroke-linecap="butt" stroke-linejoin="miter"><ellipse cx="12" cy="6.6" rx="8" ry="3.6"/><path d="M4 6.6v10.8c0 2 3.6 3.6 8 3.6s8-1.6 8-3.6V6.6"/><path d="M4 12c0 2 3.6 3.6 8 3.6s8-1.6 8-3.6"/></svg><div style="position:absolute;top:435.1px;font-size:26.78px;line-height:26.78px;color:#575757;white-space:nowrap;letter-spacing:0.479px;left:225.5px;">Data</div><svg style="position:absolute;left:176.0px;top:498.0px;color:#575757" width="32" height="32" viewBox="0 0 24 24" fill="none" stroke="#575757" stroke-width="1.65" stroke-linecap="butt" stroke-linejoin="miter"><rect x="3.2" y="4.2" width="17.6" height="15.6" rx="0.8"/><path d="M3.2 9.6h17.6M9.4 9.6v10.2"/></svg><div style="position:absolute;top:501.1px;font-size:26.78px;line-height:26.78px;color:#575757;white-space:nowrap;letter-spacing:0.920px;left:225.5px;">Layout</div><svg style="position:absolute;left:176.0px;top:564.0px;color:#575757" width="32" height="32" viewBox="0 0 24 24" fill="none" stroke="#575757" stroke-width="1.65" stroke-linecap="butt" stroke-linejoin="miter"><path d="M12 3.3a8.7 8.7 0 1 0 0 17.4c1.5 0 2.3-.9 2.3-2 0-1.300-.9-1.700-.9-2.800 0-1.100.9-2 2.100-2h2.200c1.700 0 3-1.300 3-3C20.700 6.800 16.800 3.300 12 3.300z"/><circle cx="7.600" cy="12" r="1" fill="currentColor" stroke="none"/><circle cx="9.600" cy="8" r="1" fill="currentColor" stroke="none"/><circle cx="14" cy="7.200" r="1" fill="currentColor" stroke="none"/></svg><div style="position:absolute;top:567.1px;font-size:26.78px;line-height:26.78px;color:#575757;white-space:nowrap;letter-spacing:0.815px;left:225.5px;">Theme</div><div style="position:absolute;top:664.6px;font-size:23.28px;line-height:23.28px;color:#575757;white-space:nowrap;letter-spacing:0.485px;-webkit-text-stroke:0.3px #575757;left:169.0px;">COMPONENTS</div><svg style="position:absolute;left:176.0px;top:718.0px;color:#575757" width="32" height="32" viewBox="0 0 24 24" fill="none" stroke="#575757" stroke-width="1.65" stroke-linecap="butt" stroke-linejoin="miter"><path d="M3.6 4.6h16.8l-6.5 7.9v7.1l-3.800-2.100v-5z"/></svg><div style="position:absolute;top:721.1px;font-size:26.78px;line-height:26.78px;color:#575757;white-space:nowrap;letter-spacing:1.041px;left:225.5px;">Filter Component</div><svg style="position:absolute;left:176.0px;top:784.0px;color:#575757" width="32" height="32" viewBox="0 0 24 24" fill="none" stroke="#575757" stroke-width="1.65" stroke-linecap="butt" stroke-linejoin="miter"><rect x="3.2" y="8" width="14" height="11.6" rx="0.8"/><path d="M7 8V4.600h13.800v11.200h-3.600"/></svg><div style="position:absolute;top:787.1px;font-size:26.78px;line-height:26.78px;color:#575757;white-space:nowrap;letter-spacing:0.729px;left:225.5px;">Data Cards</div><svg style="position:absolute;left:176.0px;top:850.0px;color:#575757" width="32" height="32" viewBox="0 0 24 24" fill="none" stroke="#575757" stroke-width="1.65" stroke-linecap="butt" stroke-linejoin="miter"><rect x="3.200" y="4.800" width="17.600" height="14.400" rx="0.8"/><path d="M3.200 9.600h17.600M3.200 14.400h17.600M9.200 9.600v9.600"/></svg><div style="position:absolute;top:853.1px;font-size:26.78px;line-height:26.78px;color:#575757;white-space:nowrap;letter-spacing:0.796px;left:225.5px;">Data Table</div><div style="position:absolute;top:954.3px;font-size:23.28px;line-height:23.28px;color:#575757;white-space:nowrap;letter-spacing:0.403px;-webkit-text-stroke:0.3px #575757;left:169.0px;">CHARTS</div><div style="position:absolute;left:437.0px;top:946.0px;width:107.0px;height:40.0px;box-sizing:border-box;background:#E5E1F8;border-radius:5px;"></div><svg style="position:absolute;left:450.0px;top:954.0px;color:#5A4BB6" width="24" height="24" viewBox="0 0 24 24" fill="none" stroke="#5A4BB6" stroke-width="1.7" stroke-linecap="butt" stroke-linejoin="miter"><path d="M12 3.600v16.800M3.600 12h16.800"/></svg><div style="position:absolute;top:953.1px;font-size:24.72px;line-height:24.72px;color:#5A4BB6;white-space:nowrap;letter-spacing:0.159px;-webkit-text-stroke:0.3px #5A4BB6;left:486.3px;">Add</div><svg style="position:absolute;left:176.0px;top:1012.0px;color:#575757" width="32" height="32" viewBox="0 0 24 24" fill="none" stroke="#575757" stroke-width="1.65" stroke-linecap="butt" stroke-linejoin="miter"><path d="M2.400 19.800h19.200"/><path d="M4.600 19.800v-5.900h4.900v5.900M9.500 19.800v-11h4.900v11M14.400 19.800V4h4.900v15.800"/></svg><div style="position:absolute;top:1015.1px;font-size:26.78px;line-height:26.78px;color:#575757;white-space:nowrap;letter-spacing:0.784px;left:225.5px;">Defect Rate By Factor...</div><svg style="position:absolute;left:176.0px;top:1078.0px;color:#575757" width="32" height="32" viewBox="0 0 24 24" fill="none" stroke="#575757" stroke-width="1.65" stroke-linecap="butt" stroke-linejoin="miter"><path d="M3.600 3.800v16.800h17.600"/><g fill="currentColor" stroke="none"><circle cx="8" cy="16.400" r="1.100"/><circle cx="8.400" cy="10.800" r="1.100"/><circle cx="12" cy="13.600" r="1.100"/><circle cx="15.200" cy="16.400" r="1.100"/><circle cx="15.600" cy="9.600" r="1.100"/><circle cx="19" cy="12.400" r="1.100"/><circle cx="19.200" cy="7" r="1.100"/></g></svg><div style="position:absolute;top:1081.1px;font-size:26.78px;line-height:26.78px;color:#575757;white-space:nowrap;letter-spacing:0.935px;left:225.5px;">Weight Length Defect ...</div><svg style="position:absolute;left:176.0px;top:1144.0px;color:#575757" width="32" height="32" viewBox="0 0 24 24" fill="none" stroke="#575757" stroke-width="1.65" stroke-linecap="butt" stroke-linejoin="miter"><path d="M3.600 3.800v16.800h17.600"/><path d="M6.200 15.600l4.800-5.400 4.200 3.600 5.400-6"/></svg><div style="position:absolute;top:1147.1px;font-size:26.78px;line-height:26.78px;color:#575757;white-space:nowrap;letter-spacing:0.920px;left:225.5px;">Production Volume Ti...</div><svg style="position:absolute;left:176.0px;top:1210.0px;color:#575757" width="32" height="32" viewBox="0 0 24 24" fill="none" stroke="#575757" stroke-width="1.65" stroke-linecap="butt" stroke-linejoin="miter"><path d="M2.400 19.800h19.200"/><path d="M4.600 19.800v-5.900h4.900v5.900M9.500 19.800v-11h4.900v11M14.400 19.800V4h4.900v15.800"/></svg><div style="position:absolute;top:1213.1px;font-size:26.78px;line-height:26.78px;color:#575757;white-space:nowrap;letter-spacing:0.970px;left:225.5px;">Delivery Time Histogr...</div><svg style="position:absolute;left:176.0px;top:1276.0px;color:#575757" width="32" height="32" viewBox="0 0 24 24" fill="none" stroke="#575757" stroke-width="1.65" stroke-linecap="butt" stroke-linejoin="miter"><circle cx="12" cy="12" r="8.700"/><circle cx="12" cy="12" r="4.300"/><path d="M12 3.300v17.400M3.300 12h17.400"/></svg><div style="position:absolute;top:1279.1px;font-size:26.78px;line-height:26.78px;color:#575757;white-space:nowrap;letter-spacing:0.857px;left:225.5px;">Product Class Defect ...</div><svg style="position:absolute;left:176.0px;top:1342.0px;color:#575757" width="32" height="32" viewBox="0 0 24 24" fill="none" stroke="#575757" stroke-width="1.65" stroke-linecap="butt" stroke-linejoin="miter"><path d="M2.400 19.800h19.200"/><path d="M4.600 19.800v-5.900h4.900v5.900M9.500 19.800v-11h4.900v11M14.400 19.800V4h4.900v15.800"/></svg><div style="position:absolute;top:1345.1px;font-size:26.78px;line-height:26.78px;color:#575757;white-space:nowrap;letter-spacing:0.684px;left:225.5px;">Factory Delivery Flow ...</div><svg style="position:absolute;left:572px;top:1578px" width="22" height="28" viewBox="0 0 22 28" fill="none" stroke="#5A4BB6" stroke-width="2.2"><path d="M16.500 3.500 5.500 14l11 10.500"/></svg><div style="position:absolute;top:297.8px;font-size:40.00px;line-height:40.00px;color:#1E1E1E;white-space:nowrap;font-weight:700;letter-spacing:0.333px;left:697.0px;">Manufacturing Quality Control Data App</div><div style="position:absolute;top:355.1px;font-size:28.84px;line-height:28.84px;color:#222;white-space:nowrap;letter-spacing:0.565px;left:697.0px;">Comprehensive analysis of manufacturing data including product defects, factory performance,</div><div style="position:absolute;top:402.8px;font-size:28.84px;line-height:28.84px;color:#222;white-space:nowrap;letter-spacing:0.541px;left:697.0px;">delivery tracking, and quality metrics across multiple production facilities.</div><div style="position:absolute;left:697.0px;top:473.0px;width:270.0px;height:62.5px;box-sizing:border-box;border:2px solid #ADA1EA;border-radius:7px;background:#F6F4FD;"></div><svg style="position:absolute;left:720.0px;top:488.6px;color:#5A4BB6" width="32" height="32" viewBox="0 0 24 24" fill="none" stroke="#5A4BB6" stroke-width="1.65" stroke-linecap="butt" stroke-linejoin="miter"><rect x="2.800" y="4.200" width="18.400" height="12.800" rx="1.400"/><path d="M2.800 13.800h18.400M12 17v3.200M7.600 20.400h8.800"/></svg><div style="position:absolute;top:490.0px;font-size:28.32px;line-height:28.32px;color:#5A4BB6;white-space:nowrap;letter-spacing:0.630px;-webkit-text-stroke:0.5px #5A4BB6;left:769.0px;">Stop Preview</div><svg style="position:absolute;left:983.6px;top:489.9px;color:#5A4BB6" width="27.7" height="27.7" viewBox="0 0 24 24" fill="none" stroke="#5A4BB6" stroke-width="1.75" stroke-linecap="butt" stroke-linejoin="miter"><circle cx="12" cy="12" r="8.700"/><path d="M12 6.800v5.600h4.800"/></svg><div style="position:absolute;top:491.6px;font-size:25.03px;line-height:25.03px;color:#5A4BB6;white-space:nowrap;letter-spacing:0.032px;left:1021.0px;">Generation Logs</div><div style="position:absolute;top:576.1px;font-size:32.00px;line-height:32.00px;color:#575757;white-space:nowrap;font-weight:700;letter-spacing:0.354px;left:697.0px;">Setup</div><div style="position:absolute;top:576.1px;font-size:32.00px;line-height:32.00px;color:#575757;white-space:nowrap;font-weight:700;letter-spacing:0.496px;left:929.3px;">Components</div><div style="position:absolute;left:696.5px;top:628.4px;width:125.1px;height:47.2px;box-sizing:border-box;border:2px solid #ADA1EA;border-radius:5px;background:rgba(255,255,255,0.25);"></div><svg style="position:absolute;left:712.5px;top:636.0px;color:#5A4BB6" width="32" height="32" viewBox="0 0 24 24" fill="none" stroke="#5A4BB6" stroke-width="1.65" stroke-linecap="butt" stroke-linejoin="miter"><ellipse cx="12" cy="6.6" rx="8" ry="3.6"/><path d="M4 6.6v10.8c0 2 3.6 3.6 8 3.6s8-1.6 8-3.6V6.6"/><path d="M4 12c0 2 3.6 3.6 8 3.6s8-1.6 8-3.6"/></svg><div style="position:absolute;top:639.7px;font-size:24.72px;line-height:24.72px;color:#5A4BB6;white-space:nowrap;letter-spacing:-0.338px;-webkit-text-stroke:0.45px #5A4BB6;left:753.0px;">Data</div><div style="position:absolute;left:696.5px;top:692.4px;width:149.0px;height:47.2px;box-sizing:border-box;border:2px solid #ADA1EA;border-radius:5px;background:rgba(255,255,255,0.25);"></div><svg style="position:absolute;left:712.5px;top:700.0px;color:#5A4BB6" width="32" height="32" viewBox="0 0 24 24" fill="none" stroke="#5A4BB6" stroke-width="1.65" stroke-linecap="butt" stroke-linejoin="miter"><rect x="3.2" y="4.2" width="17.6" height="15.6" rx="0.8"/><path d="M3.2 9.6h17.6M9.4 9.6v10.2"/></svg><div style="position:absolute;top:703.7px;font-size:24.72px;line-height:24.72px;color:#5A4BB6;white-space:nowrap;letter-spacing:0.157px;-webkit-text-stroke:0.45px #5A4BB6;left:753.0px;">Layout</div><div style="position:absolute;left:696.5px;top:756.2px;width:150.5px;height:47.2px;box-sizing:border-box;border:2px solid #ADA1EA;border-radius:5px;background:rgba(255,255,255,0.25);"></div><svg style="position:absolute;left:712.5px;top:763.8px;color:#5A4BB6" width="32" height="32" viewBox="0 0 24 24" fill="none" stroke="#5A4BB6" stroke-width="1.65" stroke-linecap="butt" stroke-linejoin="miter"><path d="M12 3.3a8.7 8.7 0 1 0 0 17.4c1.5 0 2.3-.9 2.3-2 0-1.300-.9-1.700-.9-2.800 0-1.100.9-2 2.100-2h2.200c1.700 0 3-1.300 3-3C20.700 6.800 16.800 3.300 12 3.300z"/><circle cx="7.600" cy="12" r="1" fill="currentColor" stroke="none"/><circle cx="9.600" cy="8" r="1" fill="currentColor" stroke="none"/><circle cx="14" cy="7.200" r="1" fill="currentColor" stroke="none"/></svg><div style="position:absolute;top:767.5px;font-size:24.72px;line-height:24.72px;color:#5A4BB6;white-space:nowrap;letter-spacing:0.068px;-webkit-text-stroke:0.45px #5A4BB6;left:753.0px;">Theme</div><div style="position:absolute;left:928.5px;top:628.4px;width:271.0px;height:47.2px;box-sizing:border-box;border:2px solid #ADA1EA;border-radius:5px;background:rgba(255,255,255,0.25);"></div><svg style="position:absolute;left:944.5px;top:636.0px;color:#5A4BB6" width="32" height="32" viewBox="0 0 24 24" fill="none" stroke="#5A4BB6" stroke-width="1.65" stroke-linecap="butt" stroke-linejoin="miter"><path d="M3.6 4.6h16.8l-6.5 7.9v7.1l-3.800-2.100v-5z"/></svg><div style="position:absolute;top:639.7px;font-size:24.72px;line-height:24.72px;color:#5A4BB6;white-space:nowrap;letter-spacing:0.501px;-webkit-text-stroke:0.45px #5A4BB6;left:985.0px;">Filter Component</div><div style="position:absolute;left:928.5px;top:692.4px;width:198.9px;height:47.2px;box-sizing:border-box;border:2px solid #ADA1EA;border-radius:5px;background:rgba(255,255,255,0.25);"></div><svg style="position:absolute;left:944.5px;top:700.0px;color:#5A4BB6" width="32" height="32" viewBox="0 0 24 24" fill="none" stroke="#5A4BB6" stroke-width="1.65" stroke-linecap="butt" stroke-linejoin="miter"><rect x="3.2" y="8" width="14" height="11.6" rx="0.8"/><path d="M7 8V4.600h13.800v11.200h-3.600"/></svg><div style="position:absolute;top:703.7px;font-size:24.72px;line-height:24.72px;color:#5A4BB6;white-space:nowrap;letter-spacing:0.142px;-webkit-text-stroke:0.45px #5A4BB6;left:985.0px;">Data Cards</div><div style="position:absolute;left:928.5px;top:756.2px;width:194.1px;height:47.2px;box-sizing:border-box;border:2px solid #ADA1EA;border-radius:5px;background:rgba(255,255,255,0.25);"></div><svg style="position:absolute;left:944.5px;top:763.8px;color:#5A4BB6" width="32" height="32" viewBox="0 0 24 24" fill="none" stroke="#5A4BB6" stroke-width="1.65" stroke-linecap="butt" stroke-linejoin="miter"><rect x="3.200" y="4.800" width="17.600" height="14.400" rx="0.8"/><path d="M3.200 9.600h17.600M3.200 14.400h17.600M9.200 9.600v9.600"/></svg><div style="position:absolute;top:767.5px;font-size:24.72px;line-height:24.72px;color:#5A4BB6;white-space:nowrap;letter-spacing:0.275px;-webkit-text-stroke:0.45px #5A4BB6;left:985.0px;">Data Table</div><div style="position:absolute;top:301.1px;font-size:32.00px;line-height:32.00px;color:#575757;white-space:nowrap;font-weight:700;letter-spacing:0.769px;left:2069.5px;">Charts</div><div style="position:absolute;left:2069.0px;top:356.1px;width:453.2px;height:47.2px;box-sizing:border-box;border:2px solid #ADA1EA;border-radius:5px;background:rgba(255,255,255,0.25);"></div><svg style="position:absolute;left:2085.0px;top:363.7px;color:#5A4BB6" width="32" height="32" viewBox="0 0 24 24" fill="none" stroke="#5A4BB6" stroke-width="1.65" stroke-linecap="butt" stroke-linejoin="miter"><path d="M2.400 19.800h19.200"/><path d="M4.600 19.800v-5.900h4.900v5.900M9.500 19.800v-11h4.900v11M14.400 19.800V4h4.900v15.800"/></svg><div style="position:absolute;top:367.4px;font-size:24.72px;line-height:24.72px;color:#5A4BB6;white-space:nowrap;letter-spacing:0.363px;-webkit-text-stroke:0.45px #5A4BB6;left:2126.1px;">Defect Rate By Factory Bar Chart</div><div style="position:absolute;left:2069.0px;top:420.4px;width:464.0px;height:47.2px;box-sizing:border-box;border:2px solid #ADA1EA;border-radius:5px;background:rgba(255,255,255,0.25);"></div><svg style="position:absolute;left:2085.0px;top:428.0px;color:#5A4BB6" width="32" height="32" viewBox="0 0 24 24" fill="none" stroke="#5A4BB6" stroke-width="1.65" stroke-linecap="butt" stroke-linejoin="miter"><path d="M3.600 3.800v16.800h17.600"/><g fill="currentColor" stroke="none"><circle cx="8" cy="16.400" r="1.100"/><circle cx="8.400" cy="10.800" r="1.100"/><circle cx="12" cy="13.600" r="1.100"/><circle cx="15.200" cy="16.400" r="1.100"/><circle cx="15.600" cy="9.600" r="1.100"/><circle cx="19" cy="12.400" r="1.100"/><circle cx="19.200" cy="7" r="1.100"/></g></svg><div style="position:absolute;top:431.7px;font-size:24.72px;line-height:24.72px;color:#5A4BB6;white-space:nowrap;letter-spacing:0.603px;-webkit-text-stroke:0.45px #5A4BB6;left:2126.1px;">Weight Length Defect Scatter Plot</div><div style="position:absolute;left:2069.0px;top:484.2px;width:393.2px;height:47.2px;box-sizing:border-box;border:2px solid #ADA1EA;border-radius:5px;background:rgba(255,255,255,0.25);"></div><svg style="position:absolute;left:2085.0px;top:491.8px;color:#5A4BB6" width="32" height="32" viewBox="0 0 24 24" fill="none" stroke="#5A4BB6" stroke-width="1.65" stroke-linecap="butt" stroke-linejoin="miter"><path d="M3.600 3.800v16.800h17.600"/><path d="M6.200 15.600l4.800-5.400 4.200 3.600 5.400-6"/></svg><div style="position:absolute;top:495.5px;font-size:24.72px;line-height:24.72px;color:#5A4BB6;white-space:nowrap;letter-spacing:0.544px;-webkit-text-stroke:0.45px #5A4BB6;left:2126.1px;">Production Volume Timeline</div><div style="position:absolute;left:2069.0px;top:548.1px;width:355.4px;height:47.2px;box-sizing:border-box;border:2px solid #ADA1EA;border-radius:5px;background:rgba(255,255,255,0.25);"></div><svg style="position:absolute;left:2085.0px;top:555.7px;color:#5A4BB6" width="32" height="32" viewBox="0 0 24 24" fill="none" stroke="#5A4BB6" stroke-width="1.65" stroke-linecap="butt" stroke-linejoin="miter"><path d="M2.400 19.800h19.200"/><path d="M4.600 19.800v-5.900h4.900v5.900M9.500 19.800v-11h4.900v11M14.400 19.800V4h4.900v15.800"/></svg><div style="position:absolute;top:559.4px;font-size:24.72px;line-height:24.72px;color:#5A4BB6;white-space:nowrap;letter-spacing:0.554px;-webkit-text-stroke:0.45px #5A4BB6;left:2126.1px;">Delivery Time Histogram</div><div style="position:absolute;left:2069.0px;top:611.9px;width:426.3px;height:47.2px;box-sizing:border-box;border:2px solid #ADA1EA;border-radius:5px;background:rgba(255,255,255,0.25);"></div><svg style="position:absolute;left:2085.0px;top:619.5px;color:#5A4BB6" width="32" height="32" viewBox="0 0 24 24" fill="none" stroke="#5A4BB6" stroke-width="1.65" stroke-linecap="butt" stroke-linejoin="miter"><circle cx="12" cy="12" r="8.700"/><circle cx="12" cy="12" r="4.300"/><path d="M12 3.300v17.400M3.300 12h17.400"/></svg><div style="position:absolute;top:623.2px;font-size:24.72px;line-height:24.72px;color:#5A4BB6;white-space:nowrap;letter-spacing:0.473px;-webkit-text-stroke:0.45px #5A4BB6;left:2126.1px;">Product Class Defect Heatmap</div><div style="position:absolute;left:2069.0px;top:676.2px;width:411.5px;height:47.2px;box-sizing:border-box;border:2px solid #ADA1EA;border-radius:5px;background:rgba(255,255,255,0.25);"></div><svg style="position:absolute;left:2085.0px;top:683.8px;color:#5A4BB6" width="32" height="32" viewBox="0 0 24 24" fill="none" stroke="#5A4BB6" stroke-width="1.65" stroke-linecap="butt" stroke-linejoin="miter"><path d="M2.400 19.800h19.200"/><path d="M4.600 19.800v-5.900h4.900v5.900M9.500 19.800v-11h4.900v11M14.400 19.800V4h4.900v15.800"/></svg><div style="position:absolute;top:687.5px;font-size:24.72px;line-height:24.72px;color:#5A4BB6;white-space:nowrap;letter-spacing:0.388px;-webkit-text-stroke:0.45px #5A4BB6;left:2126.1px;">Factory Delivery Flow Sankey</div><div style="position:absolute;left:3224.0px;top:292.0px;width:186.0px;height:47.5px;box-sizing:border-box;background:#EBE8FA;border-radius:5px;"></div><svg style="position:absolute;left:3242.0px;top:303.5px;color:#5A4BB6" width="25" height="25" viewBox="0 0 24 24" fill="none" stroke="#5A4BB6" stroke-width="1.6" stroke-linecap="butt" stroke-linejoin="miter"><path d="M12 3.600v16.800M3.600 12h16.800"/></svg><div style="position:absolute;top:303.7px;font-size:24.72px;line-height:24.72px;color:#5A4BB6;white-space:nowrap;letter-spacing:0.688px;-webkit-text-stroke:0.4px #5A4BB6;left:3276.5px;">Add Chart</div><div style="position:absolute;top:863.8px;font-size:24.72px;line-height:24.72px;color:#5A4BB6;white-space:nowrap;letter-spacing:0.262px;left:3169.0px;">Preview in Browser</div><div style="position:absolute;left:3474.0px;top:228.5px;width:16.0px;height:809.0px;box-sizing:border-box;background:#E3E1EC;border-radius:8px;"></div></div></div></body></html>
